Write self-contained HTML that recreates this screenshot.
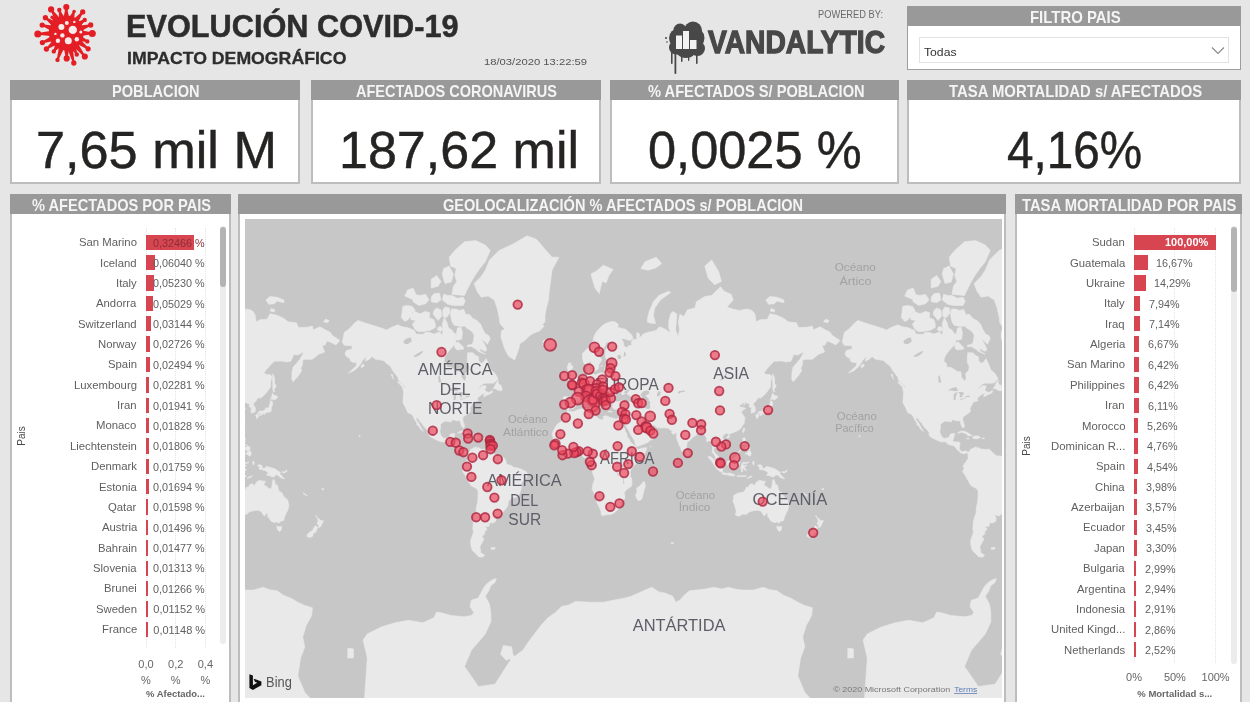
<!DOCTYPE html>
<html lang="es"><head><meta charset="utf-8"><title>Evolución COVID-19 - Impacto demográfico</title>
<style>
html,body{margin:0;padding:0}
body{width:1250px;height:703px;overflow:hidden;background:#e6e6e6;font-family:"Liberation Sans",sans-serif;position:relative}
.abs,.t,.panel,.map{position:absolute}
.t{white-space:nowrap;transform-origin:0 50%;display:block}
.panel{box-sizing:border-box;background:#fff}
.panel .hd{position:absolute;background:#999}
.grid{width:0;border-left:1px dotted #e4e4e4}
.rot{transform:rotate(-90deg);transform-origin:50% 50%}
</style></head><body>

<svg class="abs" style="left:30px;top:0" width="75" height="70" viewBox="30 0 75 70"><g fill="#e31e24" stroke="#e31e24"><circle cx="66.3" cy="32.9" r="17.4" stroke="none"/><path stroke="none" d="M68.9 17.0L67.1 7.0L65.5 7.0L63.7 17.0Z"/><circle cx="66.3" cy="7.0" r="3.08" stroke="none"/><path stroke="none" d="M74.2 18.8L74.8 11.7L73.3 11.2L69.3 17.1Z"/><circle cx="74.1" cy="11.5" r="1.76" stroke="none"/><path stroke="none" d="M78.1 22.0L83.3 12.4L82.0 11.4L74.0 18.8Z"/><circle cx="82.7" cy="11.9" r="2.64" stroke="none"/><path stroke="none" d="M80.8 25.9L85.2 20.6L84.3 19.3L77.8 21.7Z"/><circle cx="84.7" cy="20.0" r="2.20" stroke="none"/><path stroke="none" d="M82.2 30.5L91.0 25.7L90.5 24.2L80.6 25.5Z"/><circle cx="90.7" cy="25.0" r="2.64" stroke="none"/><path stroke="none" d="M82.2 35.8L92.3 34.2L92.3 32.6L82.2 30.6Z"/><circle cx="92.3" cy="33.4" r="3.52" stroke="none"/><path stroke="none" d="M80.1 41.3L87.0 42.1L87.6 40.6L82.0 36.4Z"/><circle cx="87.3" cy="41.4" r="2.20" stroke="none"/><path stroke="none" d="M77.6 44.3L87.7 49.4L88.6 48.1L80.7 40.1Z"/><circle cx="88.1" cy="48.8" r="2.64" stroke="none"/><path stroke="none" d="M74.0 47.0L84.1 57.0L85.4 56.0L78.1 43.8Z"/><circle cx="84.8" cy="56.5" r="3.08" stroke="none"/><path stroke="none" d="M70.9 48.3L76.1 54.8L77.5 54.1L75.6 46.1Z"/><circle cx="76.8" cy="54.5" r="2.20" stroke="none"/><path stroke="none" d="M67.6 49.0L73.0 63.2L74.6 62.8L72.7 47.7Z"/><circle cx="73.8" cy="63.0" r="2.64" stroke="none"/><path stroke="none" d="M64.0 48.8L65.9 58.4L67.5 58.4L69.2 48.8Z"/><circle cx="66.7" cy="58.4" r="3.08" stroke="none"/><path stroke="none" d="M58.9 47.2L56.8 59.7L58.3 60.2L63.9 48.8Z"/><circle cx="57.5" cy="59.9" r="2.20" stroke="none"/><path stroke="none" d="M55.3 44.6L53.2 50.9L54.5 51.8L59.6 47.5Z"/><circle cx="53.8" cy="51.4" r="2.20" stroke="none"/><path stroke="none" d="M52.3 40.9L45.9 48.4L46.9 49.6L55.6 44.9Z"/><circle cx="46.4" cy="49.0" r="2.64" stroke="none"/><path stroke="none" d="M50.6 36.4L42.1 41.8L42.7 43.3L52.5 41.3Z"/><circle cx="42.4" cy="42.6" r="2.64" stroke="none"/><path stroke="none" d="M50.3 30.9L37.8 33.1L37.8 34.7L50.5 36.1Z"/><circle cx="37.8" cy="33.9" r="3.52" stroke="none"/><path stroke="none" d="M52.0 25.5L42.5 24.3L42.0 25.8L50.4 30.5Z"/><circle cx="42.2" cy="25.1" r="2.64" stroke="none"/><path stroke="none" d="M55.0 21.5L45.9 17.1L45.0 18.4L51.9 25.7Z"/><circle cx="45.4" cy="17.7" r="2.64" stroke="none"/><path stroke="none" d="M57.6 19.3L52.8 16.8L51.7 17.8L53.7 22.8Z"/><circle cx="52.2" cy="17.3" r="1.76" stroke="none"/><path stroke="none" d="M59.8 18.1L51.7 9.0L50.4 9.9L55.5 21.0Z"/><circle cx="51.1" cy="9.4" r="3.08" stroke="none"/><path stroke="none" d="M64.1 16.9L60.0 9.7L58.5 10.2L59.2 18.5Z"/><circle cx="59.3" cy="9.9" r="2.20" stroke="none"/></g><g fill="#fdeaea"><circle cx="61.4" cy="26.9" r="3"/><circle cx="72.8" cy="29.9" r="4.2"/><circle cx="66.8" cy="22.9" r="2"/><circle cx="74.3" cy="21.9" r="1.2"/><circle cx="80.8" cy="31.9" r="1.5"/><circle cx="62.4" cy="35.4" r="2.2"/><circle cx="55.4" cy="33.9" r="1.2"/><circle cx="68.3" cy="40.8" r="3.5"/><circle cx="57.9" cy="40.8" r="2.2"/><circle cx="76.8" cy="39.3" r="2.2"/></g></svg>
<span class="t" style="left:126.20px;top:8.74px;font-size:31px;line-height:35.619px;color:#2d2d2d;font-weight:700;transform:scaleX(0.9904);-webkit-text-stroke:0.5px #2d2d2d;">EVOLUCIÓN COVID-19</span>
<span class="t" style="left:127.05px;top:49.47px;font-size:16.5px;line-height:18.959px;color:#2d2d2d;font-weight:700;transform:scaleX(1.0717);-webkit-text-stroke:0.3px #2d2d2d;">IMPACTO DEMOGRÁFICO</span>
<span class="t" style="left:484.00px;top:56.60px;font-size:9.5px;line-height:10.915px;color:#555;transform:scaleX(1.1817);">18/03/2020 13:22:59</span>
<span class="t" style="left:818.00px;top:8.00px;font-size:10.5px;line-height:12.065px;color:#6a6a6a;transform:scaleX(0.8842);">POWERED BY:</span>
<svg class="abs" style="left:660px;top:15px" width="235" height="65" viewBox="660 15 235 65"><g fill="#484848"><circle cx="678.5" cy="38" r="9.5"/><circle cx="694" cy="38" r="10.5"/><circle cx="686" cy="46" r="12"/><circle cx="680" cy="30" r="6.5"/><circle cx="693" cy="30.5" r="9"/><circle cx="676" cy="47.5" r="7"/><circle cx="697.5" cy="48.5" r="7.5"/><rect x="671" y="52" width="1.6" height="12" rx="0.8"/><rect x="674.5" y="52" width="1.8" height="22" rx="0.8"/><rect x="681" y="55" width="1.5" height="7" rx="0.8"/><rect x="696" y="52" width="1.6" height="12" rx="0.8"/><rect x="688" y="55" width="1.3" height="6" rx="0.8"/><circle cx="666" cy="38" r="1"/><circle cx="667" cy="42" r="0.8"/></g><g fill="#f2f2f2"><rect x="676" y="35.5" width="6" height="13.5"/><rect x="683" y="31" width="6" height="18"/><rect x="690" y="40" width="6.5" height="9"/></g><text x="708" y="53" font-family="Liberation Sans, sans-serif" font-weight="700" font-size="32" fill="#484848" stroke="#484848" stroke-width="1.3" textLength="177" lengthAdjust="spacingAndGlyphs">VANDALYTIC</text></svg>
<div class="panel" style="left:907.1px;top:6.3px;width:334px;height:63.4px;border:1px solid #9e9e9e"><div class="hd" style="height:19.8px;left:-1px;right:-1px;top:-1px"></div></div><span class="t" style="left:1029.83px;top:9.29px;font-size:15.7px;line-height:18.039px;color:#f4f4f4;font-weight:700;transform:scaleX(0.9517);">FILTRO PAIS</span>
<div class="abs" style="left:919px;top:36.5px;width:310px;height:26px;border:1px solid #e2e2e2;box-sizing:border-box;background:#fff"></div>
<span class="t" style="left:924.00px;top:46.39px;font-size:11.5px;line-height:13.213px;color:#333;transform:scaleX(1.0591);">Todas</span>
<svg class="abs" style="left:1210px;top:45px" width="16" height="11" viewBox="0 0 16 11"><path d="M2 2.5L8 8.5L14 2.5" fill="none" stroke="#888" stroke-width="1.1"/></svg>
<div class="panel" style="left:10px;top:80.3px;width:290px;height:103.4px;border:2px solid #bdbdbd"><div class="hd" style="height:19.9px;left:-2px;right:-2px;top:-2px"></div></div><span class="t" style="left:111.65px;top:83.39px;font-size:15.7px;line-height:18.039px;color:#f4f4f4;font-weight:700;transform:scaleX(0.9310);">POBLACION</span>
<div class="panel" style="left:310.8px;top:80.3px;width:290.1px;height:103.4px;border:2px solid #bdbdbd"><div class="hd" style="height:19.9px;left:-2px;right:-2px;top:-2px"></div></div><span class="t" style="left:356.44px;top:83.39px;font-size:15.7px;line-height:18.039px;color:#f4f4f4;font-weight:700;transform:scaleX(0.9247);">AFECTADOS CORONAVIRUS</span>
<div class="panel" style="left:610.1px;top:80.3px;width:288.6px;height:103.4px;border:2px solid #bdbdbd"><div class="hd" style="height:19.9px;left:-2px;right:-2px;top:-2px"></div></div><span class="t" style="left:647.91px;top:83.39px;font-size:15.7px;line-height:18.039px;color:#f4f4f4;font-weight:700;transform:scaleX(0.9344);">% AFECTADOS S/ POBLACION</span>
<div class="panel" style="left:907.1px;top:80.3px;width:334px;height:103.4px;border:2px solid #bdbdbd"><div class="hd" style="height:19.9px;left:-2px;right:-2px;top:-2px"></div></div><span class="t" style="left:948.85px;top:83.39px;font-size:15.7px;line-height:18.039px;color:#f4f4f4;font-weight:700;transform:scaleX(0.9477);">TASA MORTALIDAD s/ AFECTADOS</span>
<span class="t" style="left:35.79px;top:120.89px;font-size:51.5px;line-height:59.174px;color:#252423;transform:scaleX(1.0144);-webkit-text-stroke:0.45px #252423;">7,65 mil M</span>
<span class="t" style="left:338.50px;top:120.89px;font-size:51.5px;line-height:59.174px;color:#252423;transform:scaleX(1.0101);-webkit-text-stroke:0.45px #252423;">187,62 mil</span>
<span class="t" style="left:648.23px;top:120.89px;font-size:51.5px;line-height:59.174px;color:#252423;transform:scaleX(0.9814);-webkit-text-stroke:0.45px #252423;">0,0025 %</span>
<span class="t" style="left:1006.55px;top:120.89px;font-size:51.5px;line-height:59.174px;color:#252423;transform:scaleX(0.9255);-webkit-text-stroke:0.45px #252423;">4,16%</span>
<div class="panel" style="left:10px;top:194.1px;width:220.8px;height:520px;border:2px solid #bdbdbd"><div class="hd" style="height:19.5px;left:-2px;right:-2px;top:-2px"></div></div><span class="t" style="left:32.31px;top:196.79px;font-size:15.7px;line-height:18.039px;color:#f4f4f4;font-weight:700;transform:scaleX(0.9310);">% AFECTADOS POR PAIS</span>
<div class="panel" style="left:238.2px;top:194.1px;width:767.6px;height:520px;border:2px solid #bdbdbd"><div class="hd" style="height:19.5px;left:-2px;right:-2px;top:-2px"></div></div><span class="t" style="left:442.82px;top:196.79px;font-size:15.7px;line-height:18.039px;color:#f4f4f4;font-weight:700;transform:scaleX(0.9284);">GEOLOCALIZACIÓN % AFECTADOS s/ POBLACION</span>
<div class="panel" style="left:1015.2px;top:194.1px;width:226.5px;height:520px;border:2px solid #bdbdbd"><div class="hd" style="height:19.5px;left:-2px;right:-2px;top:-2px"></div></div><span class="t" style="left:1022.35px;top:196.79px;font-size:15.7px;line-height:18.039px;color:#f4f4f4;font-weight:700;transform:scaleX(0.9411);">TASA MORTALIDAD POR PAIS</span>
<svg class="map" style="left:244.8px;top:219.2px" width="757.4" height="479.1" viewBox="244.8 219.2 757.4 479.1">
<rect x="244.8" y="219.2" width="757.4" height="479.1" fill="#c7c7c7"/>
<path fill="#e9e9e9" stroke="#e9e9e9" stroke-width="0.6" stroke-linejoin="round" d="M-157.9 342.4L-155.9 332.8L-151.0 329.0L-145.4 322.9L-142.1 320.7L-135.7 322.9L-130.2 324.6L-120.4 327.8L-113.5 330.2L-109.3 327.8L-102.4 325.0L-98.2 327.0L-92.7 327.8L-85.7 330.6L-84.3 334.3L-77.4 334.7L-74.6 332.5L-70.4 332.8L-66.3 334.3L-60.7 332.1L-57.9 335.8L-57.2 330.2L-57.9 324.1L-55.9 317.7L-53.1 322.9L-51.7 328.2L-48.2 330.2L-46.8 332.8L-44.0 334.7L-42.7 328.2L-39.2 327.4L-37.8 332.8L-38.5 339.3L-42.0 340.4L-44.0 340.0L-45.4 344.4L-48.2 347.6L-51.0 350.8L-53.8 354.4L-55.9 358.1L-56.1 362.2L-53.8 363.3L-53.1 367.5L-49.6 367.5L-45.4 370.0L-42.7 371.7L-39.2 372.2L-38.8 377.2L-37.1 379.5L-35.7 381.2L-34.7 380.4L-34.0 378.1L-34.6 373.7L-31.5 370.5L-31.0 366.2L-32.9 362.8L-32.9 358.1L-32.5 352.9L-27.4 352.9L-23.9 356.1L-21.8 356.7L-21.5 360.9L-19.0 363.6L-16.3 362.2L-14.2 358.7L-11.4 364.9L-9.3 370.0L-5.2 373.7L-3.1 377.2L-2.1 379.5L-3.8 381.0L-6.5 383.2L-10.7 383.4L-16.3 383.4L-19.7 386.0L-22.9 390.2L-20.4 388.1L-17.7 386.0L-14.2 386.0L-14.2 388.1L-15.6 389.6L-14.2 391.8L-11.4 392.6L-9.3 391.8L-7.9 390.4L-7.9 392.6L-9.3 393.6L-12.8 395.1L-16.3 397.1L-16.4 395.3L-14.2 393.2L-17.7 394.2L-20.4 396.1L-22.5 398.0L-22.9 399.9L-21.8 400.7L-24.6 401.6L-27.4 402.5L-28.1 404.9L-29.5 407.2L-30.2 408.9L-29.6 411.5L-31.5 413.2L-34.3 415.2L-37.1 417.3L-37.5 419.8L-36.4 423.8L-35.7 426.1L-36.3 428.1L-37.8 427.5L-39.5 424.2L-39.6 422.2L-41.3 420.6L-43.4 421.1L-46.1 420.1L-48.9 420.3L-48.6 422.2L-51.0 421.7L-55.2 421.2L-57.9 423.0L-59.7 424.5L-59.7 427.7L-60.4 432.2L-59.3 435.2L-57.9 437.4L-55.9 438.6L-52.4 438.0L-50.6 436.7L-50.2 434.5L-46.8 433.6L-45.2 434.0L-46.1 436.7L-46.8 438.9L-47.7 441.8L-44.0 442.1L-41.3 442.1L-40.2 443.2L-40.6 446.8L-40.9 448.9L-39.2 451.5L-37.1 452.0L-35.0 451.0L-32.2 452.3L-32.1 453.2L-33.6 452.7L-35.7 454.1L-37.8 453.6L-39.9 452.7L-42.7 450.3L-43.8 448.9L-46.1 446.1L-47.5 445.8L-51.7 444.7L-55.2 441.8L-58.6 442.2L-62.1 440.9L-66.3 438.9L-69.7 437.1L-71.3 435.2L-70.9 433.0L-72.5 430.7L-75.3 428.0L-76.7 426.1L-78.2 423.8L-80.9 420.9L-81.8 418.7L-84.0 417.7L-83.9 420.1L-81.5 423.3L-79.5 426.9L-78.1 429.5L-76.7 431.3L-77.8 430.9L-80.2 428.7L-80.9 426.6L-83.4 424.9L-83.4 423.0L-85.4 420.1L-87.2 416.5L-89.2 414.0L-92.1 413.2L-93.8 409.8L-94.7 407.5L-96.5 404.5L-97.2 402.9L-97.1 399.9L-96.8 395.1L-96.8 391.6L-97.8 387.3L-95.4 387.7L-94.7 389.1L-95.2 386.0L-98.2 383.2L-101.7 380.6L-102.4 377.2L-105.2 373.7L-107.2 371.2L-110.0 366.2L-113.5 363.6L-116.3 360.9L-119.0 360.3L-124.6 359.5L-128.1 356.7L-130.9 359.5L-135.0 361.4L-133.6 356.1L-137.8 360.9L-139.2 363.6L-142.7 368.0L-146.8 371.2L-151.7 373.2L-148.2 370.0L-144.0 366.2L-143.4 362.8L-146.8 362.8L-149.6 361.4L-150.3 358.7L-153.8 356.7L-155.2 353.8L-153.8 350.8L-148.2 349.2L-148.2 346.0L-151.0 346.0L-155.9 345.4ZM-95.9 387.3L-98.2 386.6L-102.8 382.1L-101.0 382.1L-98.2 383.9L-96.1 386.0ZM-106.5 379.5L-107.9 377.2L-109.3 374.6L-107.5 374.8L-107.5 377.2ZM-139.2 367.5L-137.1 367.2L-135.7 365.4L-137.1 364.1L-138.9 365.7ZM-7.0 388.9L-4.5 388.9L-2.4 390.4L1.1 391.0L2.2 389.1L1.1 387.1L1.1 385.4L-1.0 384.9L-2.1 382.8L-1.7 380.6L-3.8 382.8L-5.2 386.0ZM-42.7 433.1L-39.9 431.5L-37.1 431.2L-32.9 432.5L-29.5 434.9L-27.7 435.6L-32.2 436.1L-32.9 434.9L-35.7 433.4L-38.5 432.4L-41.3 433.3ZM-27.9 438.1L-26.0 436.1L-21.8 436.2L-19.6 438.0L-21.8 438.4L-24.2 439.2ZM-33.4 438.4L-30.6 438.6L-30.9 439.0L-32.9 439.2ZM-17.9 438.1L-15.7 438.3L-15.9 438.9L-17.9 438.9ZM-14.9 354.4L-17.7 352.9L-20.4 350.8L-19.7 348.6L-17.0 350.8L-14.5 351.4L-13.5 349.2L-15.6 344.4L-18.8 339.3L-14.9 342.1L-12.8 344.4L-10.0 339.0L-11.4 335.8L-14.9 334.0L-17.7 329.0L-19.7 324.1L-23.2 320.7L-27.4 318.6L-30.9 314.5L-34.3 314.9L-36.4 309.6L-41.3 310.6L-44.0 309.2L-48.9 309.2L-49.6 315.4L-48.2 322.0L-46.1 325.4L-42.7 326.2L-38.5 326.6L-35.7 326.2L-33.6 328.2L-30.2 330.2L-27.4 332.8L-26.0 335.8L-26.7 341.1L-28.1 344.4L-32.9 345.4L-32.9 347.0L-28.8 346.7L-24.6 349.2L-21.8 351.7ZM-45.4 343.4L-42.0 342.1L-37.1 347.0L-36.4 349.2L-39.9 349.8L-43.4 350.1L-45.4 347.6ZM-64.9 327.8L-70.4 330.6L-77.4 331.7L-82.2 331.7L-85.7 329.0L-87.8 324.1L-84.3 320.7L-89.2 319.9L-89.9 315.4L-85.7 311.6L-80.2 314.0L-74.6 311.6L-70.4 313.0L-71.1 317.7L-66.3 319.9L-64.9 324.1ZM-98.9 317.7L-95.4 321.6L-92.0 319.9L-87.8 313.0L-85.0 310.6L-87.8 306.6L-93.4 305.6L-97.5 306.6L-98.2 313.0ZM-87.1 301.9L-81.5 305.6L-74.6 304.0L-71.1 300.2L-74.6 294.5L-80.2 295.7L-85.7 294.5L-87.8 298.5ZM-67.0 314.5L-62.1 320.7L-58.6 316.3L-59.3 310.1L-63.5 308.1L-66.3 310.6ZM-57.2 316.8L-53.8 317.7L-50.0 313.0L-51.0 308.1L-55.2 307.1L-57.5 310.6ZM-62.8 330.2L-59.3 331.7L-57.2 329.4L-59.3 326.6L-62.1 327.4ZM-52.4 304.5L-46.8 305.6L-37.1 305.6L-35.0 301.3L-37.1 297.4L-42.7 298.5L-48.2 295.7L-52.4 295.7L-56.5 294.5L-57.9 300.2ZM-69.0 301.9L-63.5 302.9L-59.3 300.2L-60.7 293.3L-66.3 293.9L-69.0 297.4ZM-95.4 296.2L-88.5 299.1L-84.3 294.5L-87.1 288.3L-92.7 290.2ZM-35.7 295.7L-41.3 295.1L-48.2 294.5L-46.8 286.4L-43.4 281.6L-45.4 275.8L-44.0 268.8L-49.6 266.3L-51.0 257.4L-45.4 250.6L-35.7 241.9L-24.6 240.8L-14.9 245.3L-10.0 250.6L-14.9 262.0L-20.4 268.8L-25.3 275.8L-29.5 283.0L-32.9 289.6ZM-55.2 283.7L-48.9 282.3L-46.8 274.3L-51.0 266.3L-56.5 268.8L-57.9 274.3ZM-69.0 288.3L-62.1 286.4L-59.3 281.6L-63.5 275.8L-69.0 279.5ZM14.4 360.1L8.7 356.7L6.0 352.3L3.9 347.6L2.5 342.8L0.8 337.6L1.1 331.3L4.6 329.0L1.8 326.2L-0.3 323.3L-1.0 317.7L-3.1 308.1L-5.9 300.2L-12.1 296.2L-19.0 297.4L-23.2 291.4L-26.0 283.7L-19.0 276.6L-14.9 270.4L-10.7 260.2L-1.0 250.6L12.9 244.2L26.8 236.0L36.5 239.6L44.8 249.5L51.8 257.4L58.7 257.4L51.8 270.4L50.4 281.6L49.0 291.4L48.3 300.2L46.2 308.1L44.8 315.4L44.8 322.0L42.1 325.0L44.1 326.2L39.3 331.3L33.7 333.2L29.6 335.8L24.0 341.1L19.8 343.8L18.5 349.2L16.4 355.2ZM-32.1 452.5L-30.2 451.3L-29.5 449.5L-28.1 448.9L-24.6 447.2L-23.9 446.9L-23.9 448.9L-21.8 447.5L-19.7 449.2L-16.3 449.5L-13.5 449.6L-10.7 449.4L-9.3 451.0L-7.9 452.5L-5.9 454.1L-3.8 456.0L0.4 456.2L3.2 457.6L4.6 458.7L6.0 461.8L6.0 464.3L8.0 465.0L10.1 465.3L13.6 467.5L17.8 468.3L21.2 469.4L24.0 471.0L26.4 472.0L27.1 474.7L26.5 477.6L24.0 480.4L21.9 482.5L21.2 485.4L21.0 489.0L19.8 492.7L18.5 495.6L17.1 497.1L13.6 497.6L10.8 499.0L8.0 501.7L7.8 505.6L5.3 509.6L2.9 511.7L1.1 514.6L-1.0 516.1L-3.8 515.4L-5.7 514.6L-4.0 518.5L-4.5 521.4L-6.5 522.9L-10.7 523.2L-11.1 526.5L-14.9 526.8L-13.1 529.6L-15.3 531.5L-15.6 534.4L-18.4 536.4L-16.3 539.5L-18.6 543.7L-20.4 546.9L-19.6 550.0L-19.7 552.6L-15.6 555.4L-17.7 557.4L-21.8 556.9L-24.6 553.8L-28.1 550.3L-29.5 544.7L-29.5 540.5L-28.1 536.4L-26.7 532.5L-27.4 528.7L-27.0 525.0L-26.7 520.6L-25.6 517.1L-24.0 512.9L-23.9 508.0L-22.5 501.7L-22.2 497.1L-22.1 492.7L-22.4 490.3L-24.6 488.3L-28.8 486.1L-30.6 483.9L-31.8 481.1L-33.6 478.3L-35.0 475.4L-37.1 472.6L-37.5 470.6L-36.1 468.9L-35.7 467.8L-37.1 467.4L-36.8 465.7L-35.7 463.6L-34.3 462.2L-33.6 460.8L-32.0 459.0L-32.2 456.6L-32.1 454.6L-32.8 454.1L-32.1 453.2ZM-9.3 548.0L-5.2 547.6L-5.2 549.1L-8.6 549.6ZM67.2 411.0L72.6 412.0L75.4 411.0L79.6 409.3L86.5 408.9L89.3 408.4L90.7 408.9L90.0 411.5L89.6 413.5L90.7 415.2L93.5 415.9L96.6 416.9L97.6 418.5L101.8 420.1L103.2 419.0L103.2 416.5L106.0 415.9L110.1 417.8L115.7 419.1L118.5 418.2L120.3 418.7L120.7 420.6L121.9 423.8L124.7 429.9L125.0 431.5L126.8 434.5L127.2 437.4L128.9 438.9L130.3 442.5L132.3 443.9L135.1 446.8L135.5 448.2L137.9 449.6L140.7 448.6L146.5 447.7L146.0 450.3L143.5 456.0L142.1 458.0L139.3 460.8L135.1 464.3L133.0 466.8L131.0 469.2L130.0 472.0L130.3 474.0L130.3 476.9L131.6 479.0L131.8 483.9L131.0 486.8L126.8 489.4L124.0 492.7L124.7 495.6L124.7 498.7L121.2 500.9L121.0 503.3L119.8 506.4L117.8 509.6L114.3 512.9L111.1 514.6L106.0 514.9L103.2 515.9L101.0 514.9L100.7 511.3L99.0 507.2L96.9 503.3L95.5 497.1L93.5 492.7L91.8 489.0L92.8 483.9L94.4 479.7L93.5 476.1L92.3 472.6L91.4 469.9L88.6 467.1L87.9 465.0L88.6 462.9L88.9 459.4L87.5 458.0L85.1 458.2L83.0 457.1L81.6 455.5L78.2 455.5L74.0 457.1L71.9 457.3L69.1 457.1L65.0 458.2L62.9 457.1L59.7 454.8L57.3 452.5L56.6 450.6L54.6 448.9L52.2 446.9L51.2 443.7L52.5 441.1L52.9 437.4L51.8 434.5L53.2 430.7L55.3 426.9L57.3 424.1L60.1 422.5L61.8 420.6L61.9 418.2L63.6 415.2L66.0 413.7ZM143.9 481.1L145.3 486.1L144.1 489.7L141.8 498.7L140.7 500.2L137.9 500.9L136.1 497.9L135.5 494.9L136.9 491.9L136.5 488.3L139.3 486.5L142.1 483.2ZM67.8 410.6L66.6 409.4L65.1 408.6L62.9 408.9L62.2 405.9L63.2 401.8L62.5 398.0L64.3 396.7L68.5 397.1L72.9 397.3L73.7 395.1L73.7 392.2L72.3 389.8L69.1 388.3L68.7 387.3L71.2 386.4L73.2 386.9L73.0 384.5L73.7 385.2L75.7 384.9L77.5 383.4L77.6 381.9L80.3 380.8L81.0 379.5L82.1 377.2L83.7 376.0L85.1 375.5L87.2 375.5L87.3 373.7L86.8 371.2L86.8 367.5L90.0 365.7L89.7 368.7L89.3 371.2L89.0 372.9L90.7 374.8L92.8 373.9L95.1 375.1L98.3 373.7L101.1 372.9L102.9 373.9L104.6 372.0L104.6 367.5L105.5 365.9L106.8 365.7L108.7 367.2L109.1 364.1L108.0 361.7L111.5 360.6L114.3 360.6L117.1 359.8L115.0 358.1L111.5 358.4L107.3 359.8L105.3 358.1L105.0 353.8L105.3 350.1L109.4 345.1L110.5 342.8L109.0 341.8L106.0 342.8L105.0 346.0L101.8 350.1L99.4 353.8L99.3 356.7L101.5 359.5L100.8 361.4L98.6 364.9L98.3 368.7L97.3 369.7L95.3 371.0L93.3 371.5L92.8 369.2L91.8 365.7L90.7 362.2L90.1 360.9L88.6 362.8L85.8 364.9L83.3 363.0L82.3 358.1L82.3 353.8L85.1 350.8L87.9 348.3L90.4 345.1L92.8 341.1L94.1 335.8L96.2 332.1L99.7 328.2L102.5 325.4L107.3 322.9L111.2 321.6L115.0 322.0L118.5 325.0L117.1 327.4L121.2 328.6L125.4 329.4L131.6 335.1L132.8 339.3L129.6 340.7L124.0 339.0L121.2 338.6L123.3 342.8L123.7 346.4L127.5 348.0L128.2 345.7L131.6 345.7L131.0 341.8L134.4 339.3L136.5 340.0L136.5 332.8L139.3 334.0L139.3 337.9L143.5 334.0L149.0 332.1L151.8 331.7L156.0 330.6L159.4 327.0L164.3 329.0L167.1 330.9L170.5 332.8L168.5 328.2L168.5 322.0L170.5 314.0L172.6 311.6L176.5 314.0L176.1 322.0L175.4 330.2L177.5 335.8L176.1 339.0L178.2 335.8L179.3 330.2L178.2 322.0L179.6 314.5L183.7 316.8L187.2 310.1L194.8 308.1L196.2 301.9L204.6 296.8L211.5 295.7L220.3 287.0L224.0 291.4L231.0 294.5L233.0 300.2L226.8 307.1L232.3 309.2L239.3 310.6L246.9 309.2L251.8 310.6L254.6 314.0L256.0 322.0L260.1 319.9L267.1 319.4L269.8 314.0L276.8 315.4L283.7 318.6L287.9 322.0L296.2 322.9L298.3 327.8L307.3 327.4L312.2 326.2L312.9 330.2L319.8 327.0L325.4 330.2L329.6 332.1L332.3 335.8L339.7 340.7L335.8 345.1L331.0 342.8L326.8 341.1L324.7 345.4L321.9 345.4L324.4 352.3L318.5 354.4L312.2 359.5L306.0 359.5L302.5 360.1L302.2 364.9L300.4 368.7L301.8 370.0L300.1 373.2L297.6 376.7L295.5 379.0L293.0 381.9L291.6 379.5L291.8 372.4L292.8 367.5L296.2 363.6L299.7 359.5L302.5 354.7L303.2 352.3L297.6 355.2L293.5 354.7L290.7 361.4L286.5 362.2L281.0 361.2L274.0 361.4L269.8 365.7L267.1 368.7L263.6 373.2L266.4 374.8L269.8 374.8L271.8 376.7L270.5 381.7L270.3 387.1L267.5 391.2L264.3 395.1L260.1 398.4L258.7 397.6L256.9 399.3L255.5 401.8L252.8 404.0L255.1 408.0L255.1 411.5L254.6 412.2L251.1 413.4L250.8 410.6L251.4 407.7L249.0 407.2L249.4 404.5L248.0 403.6L244.8 402.7L243.7 405.7L244.1 402.1L240.7 405.0L238.9 405.4L240.4 407.5L243.2 407.5L245.5 408.6L242.8 410.3L241.1 412.3L242.8 414.9L244.6 417.7L244.7 419.0L244.1 421.4L244.1 423.3L242.1 426.1L240.3 428.9L237.9 430.7L234.1 432.4L229.6 434.0L228.2 435.5L228.6 434.0L226.1 433.4L223.7 434.9L222.3 437.4L223.3 439.6L225.8 441.8L227.2 446.1L227.1 448.2L224.0 449.8L221.2 452.2L221.0 450.1L218.5 448.9L217.5 447.2L215.7 446.4L215.0 445.4L214.3 447.5L213.3 450.3L214.7 453.2L216.4 454.8L218.5 456.6L219.1 458.7L220.1 462.2L219.1 462.5L216.1 460.4L214.8 456.6L214.0 454.8L211.9 452.7L212.3 449.6L212.2 446.8L211.1 443.2L210.8 441.1L208.7 441.1L206.4 441.8L206.6 438.9L205.3 436.2L203.2 433.7L202.5 432.1L201.1 432.5L199.0 433.3L196.2 434.0L196.0 435.5L193.5 436.7L189.7 440.6L186.9 442.5L186.6 445.8L186.2 449.9L185.1 451.3L184.0 452.0L183.0 453.0L181.4 451.0L180.3 447.8L179.3 446.1L178.2 443.2L176.8 439.6L176.5 437.4L176.4 434.5L176.1 432.5L173.3 434.8L171.2 432.5L172.6 431.5L170.5 430.6L168.9 428.9L168.2 428.4L164.3 428.0L160.8 428.3L156.6 427.7L154.6 425.6L153.6 425.2L151.1 426.0L148.3 424.5L146.2 422.5L145.1 420.6L143.2 420.1L142.1 420.9L142.5 423.0L144.6 425.6L145.1 427.3L146.0 428.7L146.5 426.7L147.1 428.4L146.8 429.3L149.0 429.6L151.1 429.5L153.3 427.3L153.7 426.4L153.7 428.7L156.8 430.6L158.5 432.2L156.9 435.2L155.5 437.4L153.2 439.0L150.4 440.3L147.9 442.4L143.5 444.4L137.9 446.4L135.8 446.5L135.1 444.7L134.7 442.5L134.4 441.1L133.0 438.9L129.8 433.7L128.9 431.5L127.1 428.4L124.7 424.5L124.0 423.6L123.9 421.4L123.0 423.8L122.9 424.1L121.5 422.7L120.7 420.6L120.3 418.7L122.9 418.5L123.9 416.5L124.8 414.0L125.3 411.5L125.4 409.3L123.3 409.3L121.2 410.5L117.9 409.3L115.7 409.6L113.3 408.9L111.9 406.6L112.6 404.9L111.8 403.6L111.5 402.1L108.7 402.1L108.5 403.6L107.1 402.9L107.1 404.9L108.7 406.8L108.7 407.7L107.3 407.3L107.6 409.8L106.5 409.8L105.5 409.3L104.8 407.5L104.8 406.6L103.5 404.5L102.3 402.7L102.5 400.3L101.1 399.0L97.6 397.1L96.2 395.1L95.3 393.6L94.4 392.8L92.5 393.6L92.6 395.7L94.3 397.1L95.1 399.2L97.6 400.1L97.6 401.0L99.7 402.1L101.1 403.4L99.0 402.9L98.5 404.1L99.1 405.4L98.3 406.6L97.2 407.3L97.3 406.1L97.8 404.9L96.9 403.4L95.5 402.3L93.5 401.2L92.3 400.3L90.0 398.2L89.7 396.5L87.8 395.3L85.8 396.5L83.7 397.8L82.1 397.3L79.8 397.6L79.7 399.2L79.8 400.1L78.5 401.0L76.5 402.1L75.0 404.5L75.7 405.7L74.4 407.9L72.6 409.3L69.3 409.4ZM67.5 383.7L70.5 383.2L74.0 382.3L77.2 381.5L76.5 380.6L77.8 378.1L75.8 377.2L75.4 375.8L73.7 373.4L73.2 371.2L72.3 370.0L71.0 370.0L71.9 368.7L72.9 366.2L70.5 365.7L69.8 365.9L71.0 363.3L68.5 363.3L67.5 366.2L66.8 368.2L67.8 370.0L68.2 371.7L68.7 372.4L68.3 373.2L70.5 372.7L71.0 374.8L71.2 376.2L69.1 376.5L69.6 377.6L69.7 378.8L68.2 379.7L69.6 380.4L71.2 380.8L71.6 380.6L69.6 381.2ZM61.5 380.4L64.0 380.1L66.6 379.0L67.1 376.5L67.6 373.9L66.8 372.0L65.0 371.7L63.6 373.7L61.5 374.4L62.2 376.5L61.1 379.0ZM42.1 342.8L44.1 339.7L47.6 341.8L50.4 340.4L53.2 339.3L55.3 342.1L56.5 344.4L54.6 346.7L49.4 349.5L46.9 348.9L43.9 348.3L44.8 346.0L42.1 344.7L44.8 343.4ZM90.7 274.3L94.8 288.3L99.0 293.9L101.8 281.6L106.0 283.0L108.7 275.8L112.9 269.6L103.2 265.5L96.2 271.2ZM146.9 322.0L149.7 323.3L155.3 323.7L153.2 315.4L154.6 308.1L160.1 300.2L170.5 292.7L168.5 291.4L158.7 295.7L153.2 301.9L149.0 311.6L147.6 317.7ZM140.7 268.8L147.6 270.4L156.0 268.0L161.5 263.8L156.0 257.4L144.8 262.0ZM208.0 278.1L214.3 285.0L221.2 281.6L218.5 272.0L211.5 260.2L204.6 266.3ZM265.7 300.2L268.5 304.5L274.0 304.0L276.8 301.3L283.7 302.9L283.7 300.2L276.8 297.4L269.8 296.8ZM269.8 311.1L274.0 312.1L274.7 310.1L271.2 308.7ZM323.3 322.0L327.5 322.9L328.9 320.7L325.4 319.4ZM272.6 374.1L274.4 378.3L274.4 383.9L276.1 386.0L273.7 390.2L274.7 391.8L273.3 392.2L272.6 389.1L272.6 383.9L272.3 379.5ZM269.8 400.8L271.2 398.0L272.2 393.4L274.0 395.5L277.2 396.5L277.5 397.6L274.7 399.9L271.2 399.3L270.3 399.5ZM271.9 401.2L272.6 404.5L271.2 407.2L271.2 409.8L270.5 412.0L268.5 412.3L265.7 413.0L265.0 413.7L264.0 414.9L262.9 413.2L260.1 413.5L257.3 414.0L257.3 413.2L259.4 411.5L262.9 411.2L265.0 409.8L265.7 408.0L267.8 408.4L269.1 406.3L269.8 403.6L270.3 401.4ZM256.0 414.9L258.0 414.5L258.7 416.0L257.3 418.5L256.2 418.7L256.0 416.5L255.3 415.4ZM259.1 414.9L262.2 413.5L262.2 414.7L260.1 416.0ZM244.1 428.1L244.8 429.2L243.2 433.0L242.2 431.5L243.5 428.4ZM226.4 437.1L228.9 435.8L229.6 436.7L227.5 438.6ZM242.8 438.1L245.1 438.3L244.8 441.8L244.1 443.9L247.6 446.1L247.3 446.7L244.8 444.9L242.9 444.7L242.1 442.5L242.5 441.1ZM244.8 454.6L246.9 452.5L249.7 450.8L251.1 453.2L250.7 455.3L249.7 456.4L247.6 455.3L246.2 453.9ZM244.8 447.8L247.6 446.8L249.7 446.8L249.7 450.1L246.9 451.0L245.5 450.3ZM238.2 452.6L241.4 448.5L241.1 449.9L238.9 452.5ZM226.8 462.2L227.5 461.5L230.0 460.5L232.3 459.9L235.1 457.3L237.6 454.6L238.9 455.5L241.0 457.1L239.3 458.3L238.9 460.1L240.0 462.2L239.0 463.2L238.6 465.3L237.2 466.4L236.9 469.2L234.7 469.9L232.3 468.7L230.3 468.5L228.5 467.1L227.1 465.0ZM207.8 456.5L210.8 457.1L214.3 460.1L216.4 461.5L219.1 464.3L220.5 466.4L222.6 468.5L222.3 472.4L220.5 472.2L217.5 469.9L215.4 467.4L213.2 464.3L211.5 461.1L209.1 459.0ZM221.5 473.8L223.3 472.6L226.1 473.6L229.1 473.2L231.9 474.0L234.4 475.0L234.3 476.3L231.0 475.9L226.8 475.0L223.3 474.6ZM246.9 478.7L249.0 476.9L252.1 476.0L250.4 477.6ZM236.5 476.1L240.7 475.9L246.2 475.9L246.0 476.6L240.7 476.6L237.9 476.9ZM241.4 472.1L242.6 471.7L242.6 468.2L243.7 468.5L245.3 471.0L246.2 470.6L245.1 468.9L244.1 466.9L246.6 465.7L246.2 465.3L243.9 465.6L242.3 464.3L242.1 463.6L243.5 463.6L246.2 463.7L249.0 462.4L248.3 462.1L246.2 462.9L243.5 462.5L242.1 463.2L241.5 464.6L241.4 466.4L240.4 468.2L241.1 469.3ZM252.5 461.8L253.2 461.2L254.1 462.9L253.2 465.4L252.5 463.6ZM257.3 465.4L259.4 464.9L261.5 465.4L262.2 467.8L263.6 468.9L266.4 466.8L268.5 467.1L271.2 467.9L274.7 469.0L277.9 471.3L280.3 472.6L279.6 473.8L281.6 476.1L284.4 479.0L283.0 478.7L280.0 477.6L278.2 475.7L276.1 475.0L274.4 476.1L274.0 477.1L271.2 477.0L269.1 475.6L267.1 475.9L266.6 474.5L268.2 473.8L267.1 472.0L264.3 470.7L261.5 469.7L259.8 469.9L258.7 468.5L260.8 467.8L259.0 467.4ZM281.6 472.0L284.4 472.0L286.5 470.1L286.9 471.3L284.4 473.1L282.3 472.9ZM273.3 479.2L274.7 481.8L275.0 484.4L277.2 485.4L278.2 489.0L278.6 491.2L281.9 493.1L283.3 496.1L284.8 497.9L287.5 500.2L288.2 503.3L288.7 505.9L287.6 510.4L286.2 512.9L285.4 514.6L284.0 518.0L283.7 520.6L281.0 521.3L278.6 523.4L276.5 522.0L274.7 522.9L271.2 521.6L269.4 519.3L268.5 517.3L267.3 517.3L267.8 515.9L266.8 512.2L265.7 514.6L263.9 516.1L261.8 512.9L260.8 511.4L257.6 510.4L254.6 510.6L250.4 511.7L247.6 512.9L246.9 514.4L242.1 514.4L239.1 516.4L236.5 515.9L235.1 515.1L236.1 511.3L235.1 508.0L234.0 504.1L232.8 501.7L233.2 499.4L233.3 496.4L234.0 495.3L237.2 493.5L240.7 492.7L243.5 492.1L245.3 489.7L246.0 487.5L248.3 487.3L249.7 484.7L251.8 483.9L253.9 485.4L255.3 485.1L255.4 483.2L257.1 481.7L259.4 480.4L262.9 481.4L265.4 481.4L264.3 483.2L263.6 485.4L266.4 486.8L269.1 489.0L271.0 489.0L271.9 485.4L272.1 481.8ZM276.4 526.3L278.9 527.0L281.4 526.7L281.2 529.6L280.3 531.1L278.9 531.7L277.2 529.6ZM315.3 515.2L317.8 518.8L319.4 519.2L319.8 520.7L323.3 520.9L321.9 523.7L320.5 526.8L318.7 527.9L318.2 527.4L318.5 525.6L316.8 523.7L318.0 521.4L317.5 518.8L315.7 516.3ZM315.3 525.9L317.3 527.4L317.1 528.7L315.7 532.1L313.2 533.5L312.5 536.4L310.1 537.6L309.1 537.6L306.6 536.4L307.3 534.4L309.4 532.5L312.2 530.6L313.6 528.3L314.6 526.5ZM186.2 450.8L187.6 451.3L189.0 453.9L188.2 455.5L186.8 456.0L186.2 453.9ZM92.8 407.2L97.1 406.8L96.5 409.4L92.8 407.9ZM86.9 401.8L88.9 401.8L88.7 405.0L87.2 405.4ZM87.5 398.8L88.6 398.2L88.5 400.8L87.6 400.7ZM108.0 411.5L111.9 411.8L111.5 412.3L108.2 412.0ZM120.3 412.3L123.3 411.3L122.5 412.5L121.0 413.0ZM303.2 493.0L307.3 496.1L306.6 496.2L303.2 493.8ZM321.6 489.0L323.5 488.8L323.5 490.0L321.8 490.0ZM-141.3 435.6L-139.9 436.2L-140.7 437.4L-141.3 436.7ZM171.0 542.6L173.3 543.0L172.6 544.1L171.2 543.9ZM90.5 370.7L92.8 370.0L92.8 372.0L90.7 372.4ZM100.7 367.0L101.8 365.2L101.5 366.7ZM149.6 446.7L151.1 446.7L150.4 447.1ZM3.2 645.6L11.5 647.0L12.9 656.6L6.0 660.6L0.4 654.3ZM-28.8 600.4L-22.5 598.4L-21.1 608.7L-26.0 613.2L-30.2 606.6ZM-152.4 648.4L-146.8 649.1L-146.8 658.2L-152.4 658.2ZM-174.6 705.9L-160.7 710.4L-146.8 713.5L-135.7 699.0L-132.9 658.2L-137.1 640.3L-132.9 634.1L-119.0 627.3L-105.2 623.0L-91.3 620.5L-77.4 623.0L-66.3 618.0L-63.5 612.3L-57.9 613.2L-49.6 615.6L-35.7 617.0L-28.8 615.6L-24.6 610.9L-23.2 600.4L-19.0 592.8L-16.3 587.5L-12.8 583.5L-7.9 580.0L-3.8 578.8L-5.2 582.6L-9.3 585.8L-11.4 591.0L-14.9 596.5L-10.7 604.5L-9.3 613.2L-9.3 622.0L-14.9 634.1L-28.8 650.5L-35.7 666.6L-21.8 686.7L-5.2 684.4L3.2 671.2L10.1 660.6L8.7 650.5L14.3 656.6L22.6 650.5L28.2 642.2L36.5 631.2L40.7 625.7L47.6 618.0L54.6 613.2L61.5 606.6L68.5 605.3L75.4 601.6L89.3 602.4L103.2 602.4L117.1 599.6L124.0 598.4L131.0 596.5L137.9 593.5L144.8 590.3L151.8 587.5L158.7 592.1L165.7 593.5L172.6 596.5L175.4 602.4L179.6 600.4L183.7 595.8L189.3 591.0L196.2 590.3L204.6 589.3L214.3 587.5L221.2 589.3L228.2 587.5L235.1 589.3L242.1 590.3L253.2 590.3L262.9 587.5L269.8 590.0L276.8 591.0L283.7 595.8L290.7 598.4L297.6 602.4L304.6 605.7L312.2 607.9L311.5 615.6L306.0 625.7L302.5 637.2L304.6 647.0L300.4 658.2L297.6 676.0L304.6 692.6L314.3 703.0L325.4 705.9L325.4 714.3L-174.6 714.3ZM342.1 342.4L344.1 332.8L349.0 329.0L354.6 322.9L357.9 320.7L364.3 322.9L369.8 324.6L379.6 327.8L386.5 330.2L390.7 327.8L397.6 325.0L401.8 327.0L407.3 327.8L414.3 330.6L415.7 334.3L422.6 334.7L425.4 332.5L429.6 332.8L433.7 334.3L439.3 332.1L442.1 335.8L442.8 330.2L442.1 324.1L444.1 317.7L446.9 322.9L448.3 328.2L451.8 330.2L453.2 332.8L456.0 334.7L457.3 328.2L460.8 327.4L462.2 332.8L461.5 339.3L458.0 340.4L456.0 340.0L454.6 344.4L451.8 347.6L449.0 350.8L446.2 354.4L444.1 358.1L443.9 362.2L446.2 363.3L446.9 367.5L450.4 367.5L454.6 370.0L457.3 371.7L460.8 372.2L461.2 377.2L462.9 379.5L464.3 381.2L465.3 380.4L466.0 378.1L465.4 373.7L468.5 370.5L469.0 366.2L467.1 362.8L467.1 358.1L467.5 352.9L472.6 352.9L476.1 356.1L478.2 356.7L478.5 360.9L481.0 363.6L483.7 362.2L485.8 358.7L488.6 364.9L490.7 370.0L494.8 373.7L496.9 377.2L497.9 379.5L496.2 381.0L493.5 383.2L489.3 383.4L483.7 383.4L480.3 386.0L477.1 390.2L479.6 388.1L482.3 386.0L485.8 386.0L485.8 388.1L484.4 389.6L485.8 391.8L488.6 392.6L490.7 391.8L492.1 390.4L492.1 392.6L490.7 393.6L487.2 395.1L483.7 397.1L483.6 395.3L485.8 393.2L482.3 394.2L479.6 396.1L477.5 398.0L477.1 399.9L478.2 400.7L475.4 401.6L472.6 402.5L471.9 404.9L470.5 407.2L469.8 408.9L470.4 411.5L468.5 413.2L465.7 415.2L462.9 417.3L462.5 419.8L463.6 423.8L464.3 426.1L463.7 428.1L462.2 427.5L460.5 424.2L460.4 422.2L458.7 420.6L456.6 421.1L453.9 420.1L451.1 420.3L451.4 422.2L449.0 421.7L444.8 421.2L442.1 423.0L440.3 424.5L440.3 427.7L439.6 432.2L440.7 435.2L442.1 437.4L444.1 438.6L447.6 438.0L449.4 436.7L449.8 434.5L453.2 433.6L454.8 434.0L453.9 436.7L453.2 438.9L452.3 441.8L456.0 442.1L458.7 442.1L459.8 443.2L459.4 446.8L459.1 448.9L460.8 451.5L462.9 452.0L465.0 451.0L467.8 452.3L467.9 453.2L466.4 452.7L464.3 454.1L462.2 453.6L460.1 452.7L457.3 450.3L456.2 448.9L453.9 446.1L452.5 445.8L448.3 444.7L444.8 441.8L441.4 442.2L437.9 440.9L433.7 438.9L430.3 437.1L428.7 435.2L429.1 433.0L427.5 430.7L424.7 428.0L423.3 426.1L421.8 423.8L419.1 420.9L418.2 418.7L416.0 417.7L416.1 420.1L418.5 423.3L420.5 426.9L421.9 429.5L423.3 431.3L422.2 430.9L419.8 428.7L419.1 426.6L416.6 424.9L416.6 423.0L414.6 420.1L412.8 416.5L410.8 414.0L407.9 413.2L406.2 409.8L405.3 407.5L403.5 404.5L402.8 402.9L402.9 399.9L403.2 395.1L403.2 391.6L402.2 387.3L404.6 387.7L405.3 389.1L404.8 386.0L401.8 383.2L398.3 380.6L397.6 377.2L394.8 373.7L392.8 371.2L390.0 366.2L386.5 363.6L383.7 360.9L381.0 360.3L375.4 359.5L371.9 356.7L369.1 359.5L365.0 361.4L366.4 356.1L362.2 360.9L360.8 363.6L357.3 368.0L353.2 371.2L348.3 373.2L351.8 370.0L356.0 366.2L356.6 362.8L353.2 362.8L350.4 361.4L349.7 358.7L346.2 356.7L344.8 353.8L346.2 350.8L351.8 349.2L351.8 346.0L349.0 346.0L344.1 345.4ZM404.1 387.3L401.8 386.6L397.2 382.1L399.0 382.1L401.8 383.9L403.9 386.0ZM393.5 379.5L392.1 377.2L390.7 374.6L392.5 374.8L392.5 377.2ZM360.8 367.5L362.9 367.2L364.3 365.4L362.9 364.1L361.1 365.7ZM493.0 388.9L495.5 388.9L497.6 390.4L501.1 391.0L502.2 389.1L501.1 387.1L501.1 385.4L499.0 384.9L497.9 382.8L498.3 380.6L496.2 382.8L494.8 386.0ZM457.3 433.1L460.1 431.5L462.9 431.2L467.1 432.5L470.5 434.9L472.3 435.6L467.8 436.1L467.1 434.9L464.3 433.4L461.5 432.4L458.7 433.3ZM472.1 438.1L474.0 436.1L478.2 436.2L480.4 438.0L478.2 438.4L475.8 439.2ZM466.6 438.4L469.4 438.6L469.1 439.0L467.1 439.2ZM482.1 438.1L484.3 438.3L484.1 438.9L482.1 438.9ZM485.1 354.4L482.3 352.9L479.6 350.8L480.3 348.6L483.0 350.8L485.5 351.4L486.5 349.2L484.4 344.4L481.2 339.3L485.1 342.1L487.2 344.4L490.0 339.0L488.6 335.8L485.1 334.0L482.3 329.0L480.3 324.1L476.8 320.7L472.6 318.6L469.1 314.5L465.7 314.9L463.6 309.6L458.7 310.6L456.0 309.2L451.1 309.2L450.4 315.4L451.8 322.0L453.9 325.4L457.3 326.2L461.5 326.6L464.3 326.2L466.4 328.2L469.8 330.2L472.6 332.8L474.0 335.8L473.3 341.1L471.9 344.4L467.1 345.4L467.1 347.0L471.2 346.7L475.4 349.2L478.2 351.7ZM454.6 343.4L458.0 342.1L462.9 347.0L463.6 349.2L460.1 349.8L456.6 350.1L454.6 347.6ZM435.1 327.8L429.6 330.6L422.6 331.7L417.8 331.7L414.3 329.0L412.2 324.1L415.7 320.7L410.8 319.9L410.1 315.4L414.3 311.6L419.8 314.0L425.4 311.6L429.6 313.0L428.9 317.7L433.7 319.9L435.1 324.1ZM401.1 317.7L404.6 321.6L408.0 319.9L412.2 313.0L415.0 310.6L412.2 306.6L406.6 305.6L402.5 306.6L401.8 313.0ZM412.9 301.9L418.5 305.6L425.4 304.0L428.9 300.2L425.4 294.5L419.8 295.7L414.3 294.5L412.2 298.5ZM433.0 314.5L437.9 320.7L441.4 316.3L440.7 310.1L436.5 308.1L433.7 310.6ZM442.8 316.8L446.2 317.7L450.0 313.0L449.0 308.1L444.8 307.1L442.5 310.6ZM437.2 330.2L440.7 331.7L442.8 329.4L440.7 326.6L437.9 327.4ZM447.6 304.5L453.2 305.6L462.9 305.6L465.0 301.3L462.9 297.4L457.3 298.5L451.8 295.7L447.6 295.7L443.5 294.5L442.1 300.2ZM431.0 301.9L436.5 302.9L440.7 300.2L439.3 293.3L433.7 293.9L431.0 297.4ZM404.6 296.2L411.5 299.1L415.7 294.5L412.9 288.3L407.3 290.2ZM464.3 295.7L458.7 295.1L451.8 294.5L453.2 286.4L456.6 281.6L454.6 275.8L456.0 268.8L450.4 266.3L449.0 257.4L454.6 250.6L464.3 241.9L475.4 240.8L485.1 245.3L490.0 250.6L485.1 262.0L479.6 268.8L474.7 275.8L470.5 283.0L467.1 289.6ZM444.8 283.7L451.1 282.3L453.2 274.3L449.0 266.3L443.5 268.8L442.1 274.3ZM431.0 288.3L437.9 286.4L440.7 281.6L436.5 275.8L431.0 279.5ZM514.4 360.1L508.7 356.7L506.0 352.3L503.9 347.6L502.5 342.8L500.8 337.6L501.1 331.3L504.6 329.0L501.8 326.2L499.7 323.3L499.0 317.7L496.9 308.1L494.1 300.2L487.9 296.2L481.0 297.4L476.8 291.4L474.0 283.7L481.0 276.6L485.1 270.4L489.3 260.2L499.0 250.6L512.9 244.2L526.8 236.0L536.5 239.6L544.8 249.5L551.8 257.4L558.7 257.4L551.8 270.4L550.4 281.6L549.0 291.4L548.3 300.2L546.2 308.1L544.8 315.4L544.8 322.0L542.1 325.0L544.1 326.2L539.3 331.3L533.7 333.2L529.6 335.8L524.0 341.1L519.8 343.8L518.5 349.2L516.4 355.2ZM467.9 452.5L469.8 451.3L470.5 449.5L471.9 448.9L475.4 447.2L476.1 446.9L476.1 448.9L478.2 447.5L480.3 449.2L483.7 449.5L486.5 449.6L489.3 449.4L490.7 451.0L492.1 452.5L494.1 454.1L496.2 456.0L500.4 456.2L503.2 457.6L504.6 458.7L506.0 461.8L506.0 464.3L508.0 465.0L510.1 465.3L513.6 467.5L517.8 468.3L521.2 469.4L524.0 471.0L526.4 472.0L527.1 474.7L526.5 477.6L524.0 480.4L521.9 482.5L521.2 485.4L521.0 489.0L519.8 492.7L518.5 495.6L517.1 497.1L513.6 497.6L510.8 499.0L508.0 501.7L507.8 505.6L505.3 509.6L502.9 511.7L501.1 514.6L499.0 516.1L496.2 515.4L494.3 514.6L496.0 518.5L495.5 521.4L493.5 522.9L489.3 523.2L488.9 526.5L485.1 526.8L486.9 529.6L484.7 531.5L484.4 534.4L481.6 536.4L483.7 539.5L481.4 543.7L479.6 546.9L480.4 550.0L480.3 552.6L484.4 555.4L482.3 557.4L478.2 556.9L475.4 553.8L471.9 550.3L470.5 544.7L470.5 540.5L471.9 536.4L473.3 532.5L472.6 528.7L473.0 525.0L473.3 520.6L474.4 517.1L476.0 512.9L476.1 508.0L477.5 501.7L477.8 497.1L477.9 492.7L477.6 490.3L475.4 488.3L471.2 486.1L469.4 483.9L468.2 481.1L466.4 478.3L465.0 475.4L462.9 472.6L462.5 470.6L463.9 468.9L464.3 467.8L462.9 467.4L463.2 465.7L464.3 463.6L465.7 462.2L466.4 460.8L468.0 459.0L467.8 456.6L467.9 454.6L467.2 454.1L467.9 453.2ZM490.7 548.0L494.8 547.6L494.8 549.1L491.4 549.6ZM567.2 411.0L572.6 412.0L575.4 411.0L579.6 409.3L586.5 408.9L589.3 408.4L590.7 408.9L590.0 411.5L589.6 413.5L590.7 415.2L593.5 415.9L596.6 416.9L597.6 418.5L601.8 420.1L603.2 419.0L603.2 416.5L606.0 415.9L610.1 417.8L615.7 419.1L618.5 418.2L620.3 418.7L620.7 420.6L621.9 423.8L624.7 429.9L625.0 431.5L626.8 434.5L627.2 437.4L628.9 438.9L630.3 442.5L632.3 443.9L635.1 446.8L635.5 448.2L637.9 449.6L640.7 448.6L646.5 447.7L646.0 450.3L643.5 456.0L642.1 458.0L639.3 460.8L635.1 464.3L633.0 466.8L631.0 469.2L630.0 472.0L630.3 474.0L630.3 476.9L631.6 479.0L631.8 483.9L631.0 486.8L626.8 489.4L624.0 492.7L624.7 495.6L624.7 498.7L621.2 500.9L621.0 503.3L619.8 506.4L617.8 509.6L614.3 512.9L611.1 514.6L606.0 514.9L603.2 515.9L601.0 514.9L600.7 511.3L599.0 507.2L596.9 503.3L595.5 497.1L593.5 492.7L591.8 489.0L592.8 483.9L594.4 479.7L593.5 476.1L592.3 472.6L591.4 469.9L588.6 467.1L587.9 465.0L588.6 462.9L588.9 459.4L587.5 458.0L585.1 458.2L583.0 457.1L581.6 455.5L578.2 455.5L574.0 457.1L571.9 457.3L569.1 457.1L565.0 458.2L562.9 457.1L559.7 454.8L557.3 452.5L556.6 450.6L554.6 448.9L552.2 446.9L551.2 443.7L552.5 441.1L552.9 437.4L551.8 434.5L553.2 430.7L555.3 426.9L557.3 424.1L560.1 422.5L561.8 420.6L561.9 418.2L563.6 415.2L566.0 413.7ZM643.9 481.1L645.3 486.1L644.1 489.7L641.8 498.7L640.7 500.2L637.9 500.9L636.1 497.9L635.5 494.9L636.9 491.9L636.5 488.3L639.3 486.5L642.1 483.2ZM567.8 410.6L566.6 409.4L565.1 408.6L562.9 408.9L562.2 405.9L563.2 401.8L562.5 398.0L564.3 396.7L568.5 397.1L572.9 397.3L573.7 395.1L573.7 392.2L572.3 389.8L569.1 388.3L568.7 387.3L571.2 386.4L573.2 386.9L573.0 384.5L573.7 385.2L575.7 384.9L577.5 383.4L577.6 381.9L580.3 380.8L581.0 379.5L582.1 377.2L583.7 376.0L585.1 375.5L587.2 375.5L587.3 373.7L586.8 371.2L586.8 367.5L590.0 365.7L589.7 368.7L589.3 371.2L589.0 372.9L590.7 374.8L592.8 373.9L595.1 375.1L598.3 373.7L601.1 372.9L602.9 373.9L604.6 372.0L604.6 367.5L605.5 365.9L606.8 365.7L608.7 367.2L609.1 364.1L608.0 361.7L611.5 360.6L614.3 360.6L617.1 359.8L615.0 358.1L611.5 358.4L607.3 359.8L605.3 358.1L605.0 353.8L605.3 350.1L609.4 345.1L610.5 342.8L609.0 341.8L606.0 342.8L605.0 346.0L601.8 350.1L599.4 353.8L599.3 356.7L601.5 359.5L600.8 361.4L598.6 364.9L598.3 368.7L597.3 369.7L595.3 371.0L593.3 371.5L592.8 369.2L591.8 365.7L590.7 362.2L590.1 360.9L588.6 362.8L585.8 364.9L583.3 363.0L582.3 358.1L582.3 353.8L585.1 350.8L587.9 348.3L590.4 345.1L592.8 341.1L594.1 335.8L596.2 332.1L599.7 328.2L602.5 325.4L607.3 322.9L611.2 321.6L615.0 322.0L618.5 325.0L617.1 327.4L621.2 328.6L625.4 329.4L631.6 335.1L632.8 339.3L629.6 340.7L624.0 339.0L621.2 338.6L623.3 342.8L623.7 346.4L627.5 348.0L628.2 345.7L631.6 345.7L631.0 341.8L634.4 339.3L636.5 340.0L636.5 332.8L639.3 334.0L639.3 337.9L643.5 334.0L649.0 332.1L651.8 331.7L656.0 330.6L659.4 327.0L664.3 329.0L667.1 330.9L670.5 332.8L668.5 328.2L668.5 322.0L670.5 314.0L672.6 311.6L676.5 314.0L676.1 322.0L675.4 330.2L677.5 335.8L676.1 339.0L678.2 335.8L679.3 330.2L678.2 322.0L679.6 314.5L683.7 316.8L687.2 310.1L694.8 308.1L696.2 301.9L704.6 296.8L711.5 295.7L720.3 287.0L724.0 291.4L731.0 294.5L733.0 300.2L726.8 307.1L732.3 309.2L739.3 310.6L746.9 309.2L751.8 310.6L754.6 314.0L756.0 322.0L760.1 319.9L767.1 319.4L769.8 314.0L776.8 315.4L783.7 318.6L787.9 322.0L796.2 322.9L798.3 327.8L807.3 327.4L812.2 326.2L812.9 330.2L819.8 327.0L825.4 330.2L829.6 332.1L832.3 335.8L839.7 340.7L835.8 345.1L831.0 342.8L826.8 341.1L824.7 345.4L821.9 345.4L824.4 352.3L818.5 354.4L812.2 359.5L806.0 359.5L802.5 360.1L802.2 364.9L800.4 368.7L801.8 370.0L800.1 373.2L797.6 376.7L795.5 379.0L793.0 381.9L791.6 379.5L791.8 372.4L792.8 367.5L796.2 363.6L799.7 359.5L802.5 354.7L803.2 352.3L797.6 355.2L793.5 354.7L790.7 361.4L786.5 362.2L781.0 361.2L774.0 361.4L769.8 365.7L767.1 368.7L763.6 373.2L766.4 374.8L769.8 374.8L771.8 376.7L770.5 381.7L770.3 387.1L767.5 391.2L764.3 395.1L760.1 398.4L758.7 397.6L756.9 399.3L755.5 401.8L752.8 404.0L755.1 408.0L755.1 411.5L754.6 412.2L751.1 413.4L750.8 410.6L751.4 407.7L749.0 407.2L749.4 404.5L748.0 403.6L744.8 402.7L743.7 405.7L744.1 402.1L740.7 405.0L738.9 405.4L740.4 407.5L743.2 407.5L745.5 408.6L742.8 410.3L741.1 412.3L742.8 414.9L744.6 417.7L744.7 419.0L744.1 421.4L744.1 423.3L742.1 426.1L740.3 428.9L737.9 430.7L734.1 432.4L729.6 434.0L728.2 435.5L728.6 434.0L726.1 433.4L723.7 434.9L722.3 437.4L723.3 439.6L725.8 441.8L727.2 446.1L727.1 448.2L724.0 449.8L721.2 452.2L721.0 450.1L718.5 448.9L717.5 447.2L715.7 446.4L715.0 445.4L714.3 447.5L713.3 450.3L714.7 453.2L716.4 454.8L718.5 456.6L719.1 458.7L720.1 462.2L719.1 462.5L716.1 460.4L714.8 456.6L714.0 454.8L711.9 452.7L712.3 449.6L712.2 446.8L711.1 443.2L710.8 441.1L708.7 441.1L706.4 441.8L706.6 438.9L705.3 436.2L703.2 433.7L702.5 432.1L701.1 432.5L699.0 433.3L696.2 434.0L696.0 435.5L693.5 436.7L689.7 440.6L686.9 442.5L686.6 445.8L686.2 449.9L685.1 451.3L684.0 452.0L683.0 453.0L681.4 451.0L680.3 447.8L679.3 446.1L678.2 443.2L676.8 439.6L676.5 437.4L676.4 434.5L676.1 432.5L673.3 434.8L671.2 432.5L672.6 431.5L670.5 430.6L668.9 428.9L668.2 428.4L664.3 428.0L660.8 428.3L656.6 427.7L654.6 425.6L653.6 425.2L651.1 426.0L648.3 424.5L646.2 422.5L645.1 420.6L643.2 420.1L642.1 420.9L642.5 423.0L644.6 425.6L645.1 427.3L646.0 428.7L646.5 426.7L647.1 428.4L646.8 429.3L649.0 429.6L651.1 429.5L653.3 427.3L653.7 426.4L653.7 428.7L656.8 430.6L658.5 432.2L656.9 435.2L655.5 437.4L653.2 439.0L650.4 440.3L647.9 442.4L643.5 444.4L637.9 446.4L635.8 446.5L635.1 444.7L634.7 442.5L634.4 441.1L633.0 438.9L629.8 433.7L628.9 431.5L627.1 428.4L624.7 424.5L624.0 423.6L623.9 421.4L623.0 423.8L622.9 424.1L621.5 422.7L620.7 420.6L620.3 418.7L622.9 418.5L623.9 416.5L624.8 414.0L625.3 411.5L625.4 409.3L623.3 409.3L621.2 410.5L617.9 409.3L615.7 409.6L613.3 408.9L611.9 406.6L612.6 404.9L611.8 403.6L611.5 402.1L608.7 402.1L608.5 403.6L607.1 402.9L607.1 404.9L608.7 406.8L608.7 407.7L607.3 407.3L607.6 409.8L606.5 409.8L605.5 409.3L604.8 407.5L604.8 406.6L603.5 404.5L602.3 402.7L602.5 400.3L601.1 399.0L597.6 397.1L596.2 395.1L595.3 393.6L594.4 392.8L592.5 393.6L592.6 395.7L594.3 397.1L595.1 399.2L597.6 400.1L597.6 401.0L599.7 402.1L601.1 403.4L599.0 402.9L598.5 404.1L599.1 405.4L598.3 406.6L597.2 407.3L597.3 406.1L597.8 404.9L596.9 403.4L595.5 402.3L593.5 401.2L592.3 400.3L590.0 398.2L589.7 396.5L587.8 395.3L585.8 396.5L583.7 397.8L582.1 397.3L579.8 397.6L579.7 399.2L579.8 400.1L578.5 401.0L576.5 402.1L575.0 404.5L575.7 405.7L574.4 407.9L572.6 409.3L569.3 409.4ZM567.5 383.7L570.5 383.2L574.0 382.3L577.2 381.5L576.5 380.6L577.8 378.1L575.8 377.2L575.4 375.8L573.7 373.4L573.2 371.2L572.3 370.0L571.0 370.0L571.9 368.7L572.9 366.2L570.5 365.7L569.8 365.9L571.0 363.3L568.5 363.3L567.5 366.2L566.8 368.2L567.8 370.0L568.2 371.7L568.7 372.4L568.3 373.2L570.5 372.7L571.0 374.8L571.2 376.2L569.1 376.5L569.6 377.6L569.7 378.8L568.2 379.7L569.6 380.4L571.2 380.8L571.6 380.6L569.6 381.2ZM561.5 380.4L564.0 380.1L566.6 379.0L567.1 376.5L567.6 373.9L566.8 372.0L565.0 371.7L563.6 373.7L561.5 374.4L562.2 376.5L561.1 379.0ZM542.1 342.8L544.1 339.7L547.6 341.8L550.4 340.4L553.2 339.3L555.3 342.1L556.5 344.4L554.6 346.7L549.4 349.5L546.9 348.9L543.9 348.3L544.8 346.0L542.1 344.7L544.8 343.4ZM590.7 274.3L594.8 288.3L599.0 293.9L601.8 281.6L606.0 283.0L608.7 275.8L612.9 269.6L603.2 265.5L596.2 271.2ZM646.9 322.0L649.7 323.3L655.3 323.7L653.2 315.4L654.6 308.1L660.1 300.2L670.5 292.7L668.5 291.4L658.7 295.7L653.2 301.9L649.0 311.6L647.6 317.7ZM640.7 268.8L647.6 270.4L656.0 268.0L661.5 263.8L656.0 257.4L644.8 262.0ZM708.0 278.1L714.3 285.0L721.2 281.6L718.5 272.0L711.5 260.2L704.6 266.3ZM765.7 300.2L768.5 304.5L774.0 304.0L776.8 301.3L783.7 302.9L783.7 300.2L776.8 297.4L769.8 296.8ZM769.8 311.1L774.0 312.1L774.7 310.1L771.2 308.7ZM823.3 322.0L827.5 322.9L828.9 320.7L825.4 319.4ZM772.6 374.1L774.4 378.3L774.4 383.9L776.1 386.0L773.7 390.2L774.7 391.8L773.3 392.2L772.6 389.1L772.6 383.9L772.3 379.5ZM769.8 400.8L771.2 398.0L772.2 393.4L774.0 395.5L777.2 396.5L777.5 397.6L774.7 399.9L771.2 399.3L770.3 399.5ZM771.9 401.2L772.6 404.5L771.2 407.2L771.2 409.8L770.5 412.0L768.5 412.3L765.7 413.0L765.0 413.7L764.0 414.9L762.9 413.2L760.1 413.5L757.3 414.0L757.3 413.2L759.4 411.5L762.9 411.2L765.0 409.8L765.7 408.0L767.8 408.4L769.1 406.3L769.8 403.6L770.3 401.4ZM756.0 414.9L758.0 414.5L758.7 416.0L757.3 418.5L756.2 418.7L756.0 416.5L755.3 415.4ZM759.1 414.9L762.2 413.5L762.2 414.7L760.1 416.0ZM744.1 428.1L744.8 429.2L743.2 433.0L742.2 431.5L743.5 428.4ZM726.4 437.1L728.9 435.8L729.6 436.7L727.5 438.6ZM742.8 438.1L745.1 438.3L744.8 441.8L744.1 443.9L747.6 446.1L747.3 446.7L744.8 444.9L742.9 444.7L742.1 442.5L742.5 441.1ZM744.8 454.6L746.9 452.5L749.7 450.8L751.1 453.2L750.7 455.3L749.7 456.4L747.6 455.3L746.2 453.9ZM744.8 447.8L747.6 446.8L749.7 446.8L749.7 450.1L746.9 451.0L745.5 450.3ZM738.2 452.6L741.4 448.5L741.1 449.9L738.9 452.5ZM726.8 462.2L727.5 461.5L730.0 460.5L732.3 459.9L735.1 457.3L737.6 454.6L738.9 455.5L741.0 457.1L739.3 458.3L738.9 460.1L740.0 462.2L739.0 463.2L738.6 465.3L737.2 466.4L736.9 469.2L734.7 469.9L732.3 468.7L730.3 468.5L728.5 467.1L727.1 465.0ZM707.8 456.5L710.8 457.1L714.3 460.1L716.4 461.5L719.1 464.3L720.5 466.4L722.6 468.5L722.3 472.4L720.5 472.2L717.5 469.9L715.4 467.4L713.2 464.3L711.5 461.1L709.1 459.0ZM721.5 473.8L723.3 472.6L726.1 473.6L729.1 473.2L731.9 474.0L734.4 475.0L734.3 476.3L731.0 475.9L726.8 475.0L723.3 474.6ZM746.9 478.7L749.0 476.9L752.1 476.0L750.4 477.6ZM736.5 476.1L740.7 475.9L746.2 475.9L746.0 476.6L740.7 476.6L737.9 476.9ZM741.4 472.1L742.6 471.7L742.6 468.2L743.7 468.5L745.3 471.0L746.2 470.6L745.1 468.9L744.1 466.9L746.6 465.7L746.2 465.3L743.9 465.6L742.3 464.3L742.1 463.6L743.5 463.6L746.2 463.7L749.0 462.4L748.3 462.1L746.2 462.9L743.5 462.5L742.1 463.2L741.5 464.6L741.4 466.4L740.4 468.2L741.1 469.3ZM752.5 461.8L753.2 461.2L754.1 462.9L753.2 465.4L752.5 463.6ZM757.3 465.4L759.4 464.9L761.5 465.4L762.2 467.8L763.6 468.9L766.4 466.8L768.5 467.1L771.2 467.9L774.7 469.0L777.9 471.3L780.3 472.6L779.6 473.8L781.6 476.1L784.4 479.0L783.0 478.7L780.0 477.6L778.2 475.7L776.1 475.0L774.4 476.1L774.0 477.1L771.2 477.0L769.1 475.6L767.1 475.9L766.6 474.5L768.2 473.8L767.1 472.0L764.3 470.7L761.5 469.7L759.8 469.9L758.7 468.5L760.8 467.8L759.0 467.4ZM781.6 472.0L784.4 472.0L786.5 470.1L786.9 471.3L784.4 473.1L782.3 472.9ZM773.3 479.2L774.7 481.8L775.0 484.4L777.2 485.4L778.2 489.0L778.6 491.2L781.9 493.1L783.3 496.1L784.8 497.9L787.5 500.2L788.2 503.3L788.7 505.9L787.6 510.4L786.2 512.9L785.4 514.6L784.0 518.0L783.7 520.6L781.0 521.3L778.6 523.4L776.5 522.0L774.7 522.9L771.2 521.6L769.4 519.3L768.5 517.3L767.3 517.3L767.8 515.9L766.8 512.2L765.7 514.6L763.9 516.1L761.8 512.9L760.8 511.4L757.6 510.4L754.6 510.6L750.4 511.7L747.6 512.9L746.9 514.4L742.1 514.4L739.1 516.4L736.5 515.9L735.1 515.1L736.1 511.3L735.1 508.0L734.0 504.1L732.8 501.7L733.2 499.4L733.3 496.4L734.0 495.3L737.2 493.5L740.7 492.7L743.5 492.1L745.3 489.7L746.0 487.5L748.3 487.3L749.7 484.7L751.8 483.9L753.9 485.4L755.3 485.1L755.4 483.2L757.1 481.7L759.4 480.4L762.9 481.4L765.4 481.4L764.3 483.2L763.6 485.4L766.4 486.8L769.1 489.0L771.0 489.0L771.9 485.4L772.1 481.8ZM776.4 526.3L778.9 527.0L781.4 526.7L781.2 529.6L780.3 531.1L778.9 531.7L777.2 529.6ZM815.3 515.2L817.8 518.8L819.4 519.2L819.8 520.7L823.3 520.9L821.9 523.7L820.5 526.8L818.7 527.9L818.2 527.4L818.5 525.6L816.8 523.7L818.0 521.4L817.5 518.8L815.7 516.3ZM815.3 525.9L817.3 527.4L817.1 528.7L815.7 532.1L813.2 533.5L812.5 536.4L810.1 537.6L809.1 537.6L806.6 536.4L807.3 534.4L809.4 532.5L812.2 530.6L813.6 528.3L814.6 526.5ZM686.2 450.8L687.6 451.3L689.0 453.9L688.2 455.5L686.8 456.0L686.2 453.9ZM592.8 407.2L597.1 406.8L596.5 409.4L592.8 407.9ZM586.9 401.8L588.9 401.8L588.7 405.0L587.2 405.4ZM587.5 398.8L588.6 398.2L588.5 400.8L587.6 400.7ZM608.0 411.5L611.9 411.8L611.5 412.3L608.2 412.0ZM620.3 412.3L623.3 411.3L622.5 412.5L621.0 413.0ZM803.2 493.0L807.3 496.1L806.6 496.2L803.2 493.8ZM821.6 489.0L823.5 488.8L823.5 490.0L821.8 490.0ZM358.7 435.6L360.1 436.2L359.3 437.4L358.7 436.7ZM671.0 542.6L673.3 543.0L672.6 544.1L671.2 543.9ZM590.5 370.7L592.8 370.0L592.8 372.0L590.7 372.4ZM600.7 367.0L601.8 365.2L601.5 366.7ZM649.6 446.7L651.1 446.7L650.4 447.1ZM503.2 645.6L511.5 647.0L512.9 656.6L506.0 660.6L500.4 654.3ZM471.2 600.4L477.5 598.4L478.9 608.7L474.0 613.2L469.8 606.6ZM347.6 648.4L353.2 649.1L353.2 658.2L347.6 658.2ZM325.4 705.9L339.3 710.4L353.2 713.5L364.3 699.0L367.1 658.2L362.9 640.3L367.1 634.1L381.0 627.3L394.8 623.0L408.7 620.5L422.6 623.0L433.7 618.0L436.5 612.3L442.1 613.2L450.4 615.6L464.3 617.0L471.2 615.6L475.4 610.9L476.8 600.4L481.0 592.8L483.7 587.5L487.2 583.5L492.1 580.0L496.2 578.8L494.8 582.6L490.7 585.8L488.6 591.0L485.1 596.5L489.3 604.5L490.7 613.2L490.7 622.0L485.1 634.1L471.2 650.5L464.3 666.6L478.2 686.7L494.8 684.4L503.2 671.2L510.1 660.6L508.7 650.5L514.3 656.6L522.6 650.5L528.2 642.2L536.5 631.2L540.7 625.7L547.6 618.0L554.6 613.2L561.5 606.6L568.5 605.3L575.4 601.6L589.3 602.4L603.2 602.4L617.1 599.6L624.0 598.4L631.0 596.5L637.9 593.5L644.8 590.3L651.8 587.5L658.7 592.1L665.7 593.5L672.6 596.5L675.4 602.4L679.6 600.4L683.7 595.8L689.3 591.0L696.2 590.3L704.6 589.3L714.3 587.5L721.2 589.3L728.2 587.5L735.1 589.3L742.1 590.3L753.2 590.3L762.9 587.5L769.8 590.0L776.8 591.0L783.7 595.8L790.7 598.4L797.6 602.4L804.6 605.7L812.2 607.9L811.5 615.6L806.0 625.7L802.5 637.2L804.6 647.0L800.4 658.2L797.6 676.0L804.6 692.6L814.3 703.0L825.4 705.9L825.4 714.3L325.4 714.3ZM842.1 342.4L844.1 332.8L849.0 329.0L854.6 322.9L857.9 320.7L864.3 322.9L869.8 324.6L879.6 327.8L886.5 330.2L890.7 327.8L897.6 325.0L901.8 327.0L907.3 327.8L914.3 330.6L915.7 334.3L922.6 334.7L925.4 332.5L929.6 332.8L933.7 334.3L939.3 332.1L942.1 335.8L942.8 330.2L942.1 324.1L944.1 317.7L946.9 322.9L948.3 328.2L951.8 330.2L953.2 332.8L956.0 334.7L957.3 328.2L960.8 327.4L962.2 332.8L961.5 339.3L958.0 340.4L956.0 340.0L954.6 344.4L951.8 347.6L949.0 350.8L946.2 354.4L944.1 358.1L943.9 362.2L946.2 363.3L946.9 367.5L950.4 367.5L954.6 370.0L957.3 371.7L960.8 372.2L961.2 377.2L962.9 379.5L964.3 381.2L965.3 380.4L966.0 378.1L965.4 373.7L968.5 370.5L969.0 366.2L967.1 362.8L967.1 358.1L967.5 352.9L972.6 352.9L976.1 356.1L978.2 356.7L978.5 360.9L981.0 363.6L983.7 362.2L985.8 358.7L988.6 364.9L990.7 370.0L994.8 373.7L996.9 377.2L997.9 379.5L996.2 381.0L993.5 383.2L989.3 383.4L983.7 383.4L980.3 386.0L977.1 390.2L979.6 388.1L982.3 386.0L985.8 386.0L985.8 388.1L984.4 389.6L985.8 391.8L988.6 392.6L990.7 391.8L992.1 390.4L992.1 392.6L990.7 393.6L987.2 395.1L983.7 397.1L983.6 395.3L985.8 393.2L982.3 394.2L979.6 396.1L977.5 398.0L977.1 399.9L978.2 400.7L975.4 401.6L972.6 402.5L971.9 404.9L970.5 407.2L969.8 408.9L970.4 411.5L968.5 413.2L965.7 415.2L962.9 417.3L962.5 419.8L963.6 423.8L964.3 426.1L963.7 428.1L962.2 427.5L960.5 424.2L960.4 422.2L958.7 420.6L956.6 421.1L953.9 420.1L951.1 420.3L951.4 422.2L949.0 421.7L944.8 421.2L942.1 423.0L940.3 424.5L940.3 427.7L939.6 432.2L940.7 435.2L942.1 437.4L944.1 438.6L947.6 438.0L949.4 436.7L949.8 434.5L953.2 433.6L954.8 434.0L953.9 436.7L953.2 438.9L952.3 441.8L956.0 442.1L958.7 442.1L959.8 443.2L959.4 446.8L959.1 448.9L960.8 451.5L962.9 452.0L965.0 451.0L967.8 452.3L967.9 453.2L966.4 452.7L964.3 454.1L962.2 453.6L960.1 452.7L957.3 450.3L956.2 448.9L953.9 446.1L952.5 445.8L948.3 444.7L944.8 441.8L941.4 442.2L937.9 440.9L933.7 438.9L930.3 437.1L928.7 435.2L929.1 433.0L927.5 430.7L924.7 428.0L923.3 426.1L921.8 423.8L919.1 420.9L918.2 418.7L916.0 417.7L916.1 420.1L918.5 423.3L920.5 426.9L921.9 429.5L923.3 431.3L922.2 430.9L919.8 428.7L919.1 426.6L916.6 424.9L916.6 423.0L914.6 420.1L912.8 416.5L910.8 414.0L907.9 413.2L906.2 409.8L905.3 407.5L903.5 404.5L902.8 402.9L902.9 399.9L903.2 395.1L903.2 391.6L902.2 387.3L904.6 387.7L905.3 389.1L904.8 386.0L901.8 383.2L898.3 380.6L897.6 377.2L894.8 373.7L892.8 371.2L890.0 366.2L886.5 363.6L883.7 360.9L881.0 360.3L875.4 359.5L871.9 356.7L869.1 359.5L865.0 361.4L866.4 356.1L862.2 360.9L860.8 363.6L857.3 368.0L853.2 371.2L848.3 373.2L851.8 370.0L856.0 366.2L856.6 362.8L853.2 362.8L850.4 361.4L849.7 358.7L846.2 356.7L844.8 353.8L846.2 350.8L851.8 349.2L851.8 346.0L849.0 346.0L844.1 345.4ZM904.1 387.3L901.8 386.6L897.2 382.1L899.0 382.1L901.8 383.9L903.9 386.0ZM893.5 379.5L892.1 377.2L890.7 374.6L892.5 374.8L892.5 377.2ZM860.8 367.5L862.9 367.2L864.3 365.4L862.9 364.1L861.1 365.7ZM993.0 388.9L995.5 388.9L997.6 390.4L1001.1 391.0L1002.2 389.1L1001.1 387.1L1001.1 385.4L999.0 384.9L997.9 382.8L998.3 380.6L996.2 382.8L994.8 386.0ZM957.3 433.1L960.1 431.5L962.9 431.2L967.1 432.5L970.5 434.9L972.3 435.6L967.8 436.1L967.1 434.9L964.3 433.4L961.5 432.4L958.7 433.3ZM972.1 438.1L974.0 436.1L978.2 436.2L980.4 438.0L978.2 438.4L975.8 439.2ZM966.6 438.4L969.4 438.6L969.1 439.0L967.1 439.2ZM982.1 438.1L984.3 438.3L984.1 438.9L982.1 438.9ZM985.1 354.4L982.3 352.9L979.6 350.8L980.3 348.6L983.0 350.8L985.5 351.4L986.5 349.2L984.4 344.4L981.2 339.3L985.1 342.1L987.2 344.4L990.0 339.0L988.6 335.8L985.1 334.0L982.3 329.0L980.3 324.1L976.8 320.7L972.6 318.6L969.1 314.5L965.7 314.9L963.6 309.6L958.7 310.6L956.0 309.2L951.1 309.2L950.4 315.4L951.8 322.0L953.9 325.4L957.3 326.2L961.5 326.6L964.3 326.2L966.4 328.2L969.8 330.2L972.6 332.8L974.0 335.8L973.3 341.1L971.9 344.4L967.1 345.4L967.1 347.0L971.2 346.7L975.4 349.2L978.2 351.7ZM954.6 343.4L958.0 342.1L962.9 347.0L963.6 349.2L960.1 349.8L956.6 350.1L954.6 347.6ZM935.1 327.8L929.6 330.6L922.6 331.7L917.8 331.7L914.3 329.0L912.2 324.1L915.7 320.7L910.8 319.9L910.1 315.4L914.3 311.6L919.8 314.0L925.4 311.6L929.6 313.0L928.9 317.7L933.7 319.9L935.1 324.1ZM901.1 317.7L904.6 321.6L908.0 319.9L912.2 313.0L915.0 310.6L912.2 306.6L906.6 305.6L902.5 306.6L901.8 313.0ZM912.9 301.9L918.5 305.6L925.4 304.0L928.9 300.2L925.4 294.5L919.8 295.7L914.3 294.5L912.2 298.5ZM933.0 314.5L937.9 320.7L941.4 316.3L940.7 310.1L936.5 308.1L933.7 310.6ZM942.8 316.8L946.2 317.7L950.0 313.0L949.0 308.1L944.8 307.1L942.5 310.6ZM937.2 330.2L940.7 331.7L942.8 329.4L940.7 326.6L937.9 327.4ZM947.6 304.5L953.2 305.6L962.9 305.6L965.0 301.3L962.9 297.4L957.3 298.5L951.8 295.7L947.6 295.7L943.5 294.5L942.1 300.2ZM931.0 301.9L936.5 302.9L940.7 300.2L939.3 293.3L933.7 293.9L931.0 297.4ZM904.6 296.2L911.5 299.1L915.7 294.5L912.9 288.3L907.3 290.2ZM964.3 295.7L958.7 295.1L951.8 294.5L953.2 286.4L956.6 281.6L954.6 275.8L956.0 268.8L950.4 266.3L949.0 257.4L954.6 250.6L964.3 241.9L975.4 240.8L985.1 245.3L990.0 250.6L985.1 262.0L979.6 268.8L974.7 275.8L970.5 283.0L967.1 289.6ZM944.8 283.7L951.1 282.3L953.2 274.3L949.0 266.3L943.5 268.8L942.1 274.3ZM931.0 288.3L937.9 286.4L940.7 281.6L936.5 275.8L931.0 279.5ZM1014.4 360.1L1008.7 356.7L1006.0 352.3L1003.9 347.6L1002.5 342.8L1000.8 337.6L1001.1 331.3L1004.6 329.0L1001.8 326.2L999.7 323.3L999.0 317.7L996.9 308.1L994.1 300.2L987.9 296.2L981.0 297.4L976.8 291.4L974.0 283.7L981.0 276.6L985.1 270.4L989.3 260.2L999.0 250.6L1012.9 244.2L1026.8 236.0L1036.5 239.6L1044.8 249.5L1051.8 257.4L1058.7 257.4L1051.8 270.4L1050.4 281.6L1049.0 291.4L1048.3 300.2L1046.2 308.1L1044.8 315.4L1044.8 322.0L1042.1 325.0L1044.2 326.2L1039.3 331.3L1033.7 333.2L1029.6 335.8L1024.0 341.1L1019.8 343.8L1018.5 349.2L1016.4 355.2ZM967.9 452.5L969.8 451.3L970.5 449.5L971.9 448.9L975.4 447.2L976.1 446.9L976.1 448.9L978.2 447.5L980.3 449.2L983.7 449.5L986.5 449.6L989.3 449.4L990.7 451.0L992.1 452.5L994.1 454.1L996.2 456.0L1000.4 456.2L1003.2 457.6L1004.6 458.7L1006.0 461.8L1006.0 464.3L1008.0 465.0L1010.1 465.3L1013.6 467.5L1017.8 468.3L1021.2 469.4L1024.0 471.0L1026.4 472.0L1027.1 474.7L1026.5 477.6L1024.0 480.4L1021.9 482.5L1021.2 485.4L1021.0 489.0L1019.8 492.7L1018.5 495.6L1017.1 497.1L1013.6 497.6L1010.8 499.0L1008.0 501.7L1007.8 505.6L1005.3 509.6L1002.9 511.7L1001.1 514.6L999.0 516.1L996.2 515.4L994.3 514.6L996.0 518.5L995.5 521.4L993.5 522.9L989.3 523.2L988.9 526.5L985.1 526.8L986.9 529.6L984.7 531.5L984.4 534.4L981.6 536.4L983.7 539.5L981.4 543.7L979.6 546.9L980.4 550.0L980.3 552.6L984.4 555.4L982.3 557.4L978.2 556.9L975.4 553.8L971.9 550.3L970.5 544.7L970.5 540.5L971.9 536.4L973.3 532.5L972.6 528.7L973.0 525.0L973.3 520.6L974.4 517.1L976.0 512.9L976.1 508.0L977.5 501.7L977.8 497.1L977.9 492.7L977.6 490.3L975.4 488.3L971.2 486.1L969.4 483.9L968.2 481.1L966.4 478.3L965.0 475.4L962.9 472.6L962.5 470.6L963.9 468.9L964.3 467.8L962.9 467.4L963.2 465.7L964.3 463.6L965.7 462.2L966.4 460.8L968.0 459.0L967.8 456.6L967.9 454.6L967.2 454.1L967.9 453.2ZM990.7 548.0L994.8 547.6L994.8 549.1L991.4 549.6ZM1067.2 411.0L1072.6 412.0L1075.4 411.0L1079.6 409.3L1086.5 408.9L1089.3 408.4L1090.7 408.9L1090.0 411.5L1089.6 413.5L1090.7 415.2L1093.5 415.9L1096.7 416.9L1097.6 418.5L1101.8 420.1L1103.2 419.0L1103.2 416.5L1106.0 415.9L1110.1 417.8L1115.7 419.1L1118.5 418.2L1120.3 418.7L1120.7 420.6L1121.9 423.8L1124.7 429.9L1125.0 431.5L1126.8 434.5L1127.2 437.4L1128.9 438.9L1130.3 442.5L1132.3 443.9L1135.1 446.8L1135.5 448.2L1137.9 449.6L1140.7 448.6L1146.5 447.7L1146.0 450.3L1143.5 456.0L1142.1 458.0L1139.3 460.8L1135.1 464.3L1133.0 466.8L1131.0 469.2L1130.0 472.0L1130.3 474.0L1130.3 476.9L1131.7 479.0L1131.8 483.9L1131.0 486.8L1126.8 489.4L1124.0 492.7L1124.7 495.6L1124.7 498.7L1121.2 500.9L1121.0 503.3L1119.8 506.4L1117.8 509.6L1114.3 512.9L1111.1 514.6L1106.0 514.9L1103.2 515.9L1101.0 514.9L1100.7 511.3L1099.0 507.2L1096.9 503.3L1095.5 497.1L1093.5 492.7L1091.8 489.0L1092.8 483.9L1094.4 479.7L1093.5 476.1L1092.3 472.6L1091.4 469.9L1088.6 467.1L1087.9 465.0L1088.6 462.9L1088.9 459.4L1087.5 458.0L1085.1 458.2L1083.0 457.1L1081.7 455.5L1078.2 455.5L1074.0 457.1L1071.9 457.3L1069.2 457.1L1065.0 458.2L1062.9 457.1L1059.7 454.8L1057.3 452.5L1056.7 450.6L1054.6 448.9L1052.2 446.9L1051.2 443.7L1052.5 441.1L1052.9 437.4L1051.8 434.5L1053.2 430.7L1055.3 426.9L1057.3 424.1L1060.1 422.5L1061.8 420.6L1061.9 418.2L1063.6 415.2L1066.0 413.7ZM1143.9 481.1L1145.3 486.1L1144.2 489.7L1141.8 498.7L1140.7 500.2L1137.9 500.9L1136.1 497.9L1135.5 494.9L1136.9 491.9L1136.5 488.3L1139.3 486.5L1142.1 483.2ZM1067.8 410.6L1066.7 409.4L1065.1 408.6L1062.9 408.9L1062.2 405.9L1063.2 401.8L1062.5 398.0L1064.3 396.7L1068.5 397.1L1072.9 397.3L1073.7 395.1L1073.7 392.2L1072.3 389.8L1069.2 388.3L1068.7 387.3L1071.2 386.4L1073.2 386.9L1073.0 384.5L1073.7 385.2L1075.7 384.9L1077.5 383.4L1077.6 381.9L1080.3 380.8L1081.0 379.5L1082.1 377.2L1083.7 376.0L1085.1 375.5L1087.2 375.5L1087.3 373.7L1086.8 371.2L1086.8 367.5L1090.0 365.7L1089.7 368.7L1089.3 371.2L1089.0 372.9L1090.7 374.8L1092.8 373.9L1095.1 375.1L1098.3 373.7L1101.1 372.9L1102.9 373.9L1104.6 372.0L1104.6 367.5L1105.5 365.9L1106.8 365.7L1108.7 367.2L1109.2 364.1L1108.0 361.7L1111.5 360.6L1114.3 360.6L1117.1 359.8L1115.0 358.1L1111.5 358.4L1107.3 359.8L1105.3 358.1L1105.0 353.8L1105.3 350.1L1109.4 345.1L1110.5 342.8L1109.0 341.8L1106.0 342.8L1105.0 346.0L1101.8 350.1L1099.4 353.8L1099.3 356.7L1101.5 359.5L1100.8 361.4L1098.6 364.9L1098.3 368.7L1097.3 369.7L1095.3 371.0L1093.3 371.5L1092.8 369.2L1091.8 365.7L1090.7 362.2L1090.1 360.9L1088.6 362.8L1085.8 364.9L1083.3 363.0L1082.3 358.1L1082.3 353.8L1085.1 350.8L1087.9 348.3L1090.4 345.1L1092.8 341.1L1094.2 335.8L1096.2 332.1L1099.7 328.2L1102.5 325.4L1107.3 322.9L1111.2 321.6L1115.0 322.0L1118.5 325.0L1117.1 327.4L1121.2 328.6L1125.4 329.4L1131.7 335.1L1132.8 339.3L1129.6 340.7L1124.0 339.0L1121.2 338.6L1123.3 342.8L1123.7 346.4L1127.5 348.0L1128.2 345.7L1131.7 345.7L1131.0 341.8L1134.4 339.3L1136.5 340.0L1136.5 332.8L1139.3 334.0L1139.3 337.9L1143.5 334.0L1149.0 332.1L1151.8 331.7L1156.0 330.6L1159.4 327.0L1164.3 329.0L1167.1 330.9L1170.5 332.8L1168.5 328.2L1168.5 322.0L1170.5 314.0L1172.6 311.6L1176.5 314.0L1176.1 322.0L1175.4 330.2L1177.5 335.8L1176.1 339.0L1178.2 335.8L1179.3 330.2L1178.2 322.0L1179.6 314.5L1183.7 316.8L1187.2 310.1L1194.8 308.1L1196.2 301.9L1204.6 296.8L1211.5 295.7L1220.3 287.0L1224.0 291.4L1231.0 294.5L1233.0 300.2L1226.8 307.1L1232.3 309.2L1239.3 310.6L1246.9 309.2L1251.8 310.6L1254.6 314.0L1256.0 322.0L1260.1 319.9L1267.1 319.4L1269.8 314.0L1276.8 315.4L1283.7 318.6L1287.9 322.0L1296.2 322.9L1298.3 327.8L1307.3 327.4L1312.2 326.2L1312.9 330.2L1319.8 327.0L1325.4 330.2L1329.6 332.1L1332.3 335.8L1339.7 340.7L1335.8 345.1L1331.0 342.8L1326.8 341.1L1324.7 345.4L1321.9 345.4L1324.4 352.3L1318.5 354.4L1312.2 359.5L1306.0 359.5L1302.5 360.1L1302.2 364.9L1300.4 368.7L1301.8 370.0L1300.1 373.2L1297.6 376.7L1295.5 379.0L1293.0 381.9L1291.7 379.5L1291.8 372.4L1292.8 367.5L1296.2 363.6L1299.7 359.5L1302.5 354.7L1303.2 352.3L1297.6 355.2L1293.5 354.7L1290.7 361.4L1286.5 362.2L1281.0 361.2L1274.0 361.4L1269.8 365.7L1267.1 368.7L1263.6 373.2L1266.4 374.8L1269.8 374.8L1271.8 376.7L1270.5 381.7L1270.3 387.1L1267.5 391.2L1264.3 395.1L1260.1 398.4L1258.7 397.6L1256.9 399.3L1255.5 401.8L1252.8 404.0L1255.1 408.0L1255.1 411.5L1254.6 412.2L1251.1 413.4L1250.8 410.6L1251.4 407.7L1249.0 407.2L1249.4 404.5L1248.0 403.6L1244.8 402.7L1243.7 405.7L1244.2 402.1L1240.7 405.0L1238.9 405.4L1240.4 407.5L1243.2 407.5L1245.5 408.6L1242.8 410.3L1241.1 412.3L1242.8 414.9L1244.6 417.7L1244.7 419.0L1244.2 421.4L1244.2 423.3L1242.1 426.1L1240.3 428.9L1237.9 430.7L1234.2 432.4L1229.6 434.0L1228.2 435.5L1228.6 434.0L1226.1 433.4L1223.7 434.9L1222.3 437.4L1223.3 439.6L1225.8 441.8L1227.2 446.1L1227.1 448.2L1224.0 449.8L1221.2 452.2L1221.0 450.1L1218.5 448.9L1217.5 447.2L1215.7 446.4L1215.0 445.4L1214.3 447.5L1213.3 450.3L1214.7 453.2L1216.4 454.8L1218.5 456.6L1219.2 458.7L1220.1 462.2L1219.2 462.5L1216.1 460.4L1214.8 456.6L1214.0 454.8L1211.9 452.7L1212.3 449.6L1212.2 446.8L1211.1 443.2L1210.8 441.1L1208.7 441.1L1206.4 441.8L1206.7 438.9L1205.3 436.2L1203.2 433.7L1202.5 432.1L1201.1 432.5L1199.0 433.3L1196.2 434.0L1196.0 435.5L1193.5 436.7L1189.7 440.6L1186.9 442.5L1186.7 445.8L1186.2 449.9L1185.1 451.3L1184.0 452.0L1183.0 453.0L1181.4 451.0L1180.3 447.8L1179.3 446.1L1178.2 443.2L1176.8 439.6L1176.5 437.4L1176.4 434.5L1176.1 432.5L1173.3 434.8L1171.2 432.5L1172.6 431.5L1170.5 430.6L1168.9 428.9L1168.2 428.4L1164.3 428.0L1160.8 428.3L1156.7 427.7L1154.6 425.6L1153.6 425.2L1151.1 426.0L1148.3 424.5L1146.2 422.5L1145.1 420.6L1143.2 420.1L1142.1 420.9L1142.5 423.0L1144.6 425.6L1145.1 427.3L1146.0 428.7L1146.5 426.7L1147.1 428.4L1146.8 429.3L1149.0 429.6L1151.1 429.5L1153.3 427.3L1153.7 426.4L1153.7 428.7L1156.8 430.6L1158.5 432.2L1156.9 435.2L1155.5 437.4L1153.2 439.0L1150.4 440.3L1147.9 442.4L1143.5 444.4L1137.9 446.4L1135.8 446.5L1135.1 444.7L1134.7 442.5L1134.4 441.1L1133.0 438.9L1129.8 433.7L1128.9 431.5L1127.1 428.4L1124.7 424.5L1124.0 423.6L1123.9 421.4L1123.0 423.8L1122.9 424.1L1121.5 422.7L1120.7 420.6L1120.3 418.7L1122.9 418.5L1123.9 416.5L1124.8 414.0L1125.3 411.5L1125.4 409.3L1123.3 409.3L1121.2 410.5L1117.9 409.3L1115.7 409.6L1113.3 408.9L1111.9 406.6L1112.6 404.9L1111.8 403.6L1111.5 402.1L1108.7 402.1L1108.5 403.6L1107.1 402.9L1107.1 404.9L1108.7 406.8L1108.7 407.7L1107.3 407.3L1107.6 409.8L1106.5 409.8L1105.5 409.3L1104.8 407.5L1104.8 406.6L1103.5 404.5L1102.3 402.7L1102.5 400.3L1101.1 399.0L1097.6 397.1L1096.2 395.1L1095.3 393.6L1094.4 392.8L1092.5 393.6L1092.6 395.7L1094.3 397.1L1095.1 399.2L1097.6 400.1L1097.6 401.0L1099.7 402.1L1101.1 403.4L1099.0 402.9L1098.5 404.1L1099.2 405.4L1098.3 406.6L1097.2 407.3L1097.3 406.1L1097.8 404.9L1096.9 403.4L1095.5 402.3L1093.5 401.2L1092.3 400.3L1090.0 398.2L1089.7 396.5L1087.8 395.3L1085.8 396.5L1083.7 397.8L1082.1 397.3L1079.8 397.6L1079.7 399.2L1079.8 400.1L1078.5 401.0L1076.5 402.1L1075.0 404.5L1075.7 405.7L1074.4 407.9L1072.6 409.3L1069.3 409.4ZM1067.5 383.7L1070.5 383.2L1074.0 382.3L1077.2 381.5L1076.5 380.6L1077.8 378.1L1075.8 377.2L1075.4 375.8L1073.7 373.4L1073.2 371.2L1072.3 370.0L1071.0 370.0L1071.9 368.7L1072.9 366.2L1070.5 365.7L1069.8 365.9L1071.0 363.3L1068.5 363.3L1067.5 366.2L1066.8 368.2L1067.8 370.0L1068.2 371.7L1068.7 372.4L1068.3 373.2L1070.5 372.7L1071.0 374.8L1071.2 376.2L1069.2 376.5L1069.6 377.6L1069.7 378.8L1068.2 379.7L1069.6 380.4L1071.2 380.8L1071.7 380.6L1069.6 381.2ZM1061.5 380.4L1064.0 380.1L1066.7 379.0L1067.1 376.5L1067.6 373.9L1066.8 372.0L1065.0 371.7L1063.6 373.7L1061.5 374.4L1062.2 376.5L1061.1 379.0ZM1042.1 342.8L1044.2 339.7L1047.6 341.8L1050.4 340.4L1053.2 339.3L1055.3 342.1L1056.5 344.4L1054.6 346.7L1049.4 349.5L1046.9 348.9L1043.9 348.3L1044.8 346.0L1042.1 344.7L1044.8 343.4ZM1090.7 274.3L1094.8 288.3L1099.0 293.9L1101.8 281.6L1106.0 283.0L1108.7 275.8L1112.9 269.6L1103.2 265.5L1096.2 271.2ZM1146.9 322.0L1149.7 323.3L1155.3 323.7L1153.2 315.4L1154.6 308.1L1160.1 300.2L1170.5 292.7L1168.5 291.4L1158.7 295.7L1153.2 301.9L1149.0 311.6L1147.6 317.7ZM1140.7 268.8L1147.6 270.4L1156.0 268.0L1161.5 263.8L1156.0 257.4L1144.8 262.0ZM1208.0 278.1L1214.3 285.0L1221.2 281.6L1218.5 272.0L1211.5 260.2L1204.6 266.3ZM1265.7 300.2L1268.5 304.5L1274.0 304.0L1276.8 301.3L1283.7 302.9L1283.7 300.2L1276.8 297.4L1269.8 296.8ZM1269.8 311.1L1274.0 312.1L1274.7 310.1L1271.2 308.7ZM1323.3 322.0L1327.5 322.9L1328.9 320.7L1325.4 319.4ZM1272.6 374.1L1274.4 378.3L1274.4 383.9L1276.1 386.0L1273.7 390.2L1274.7 391.8L1273.3 392.2L1272.6 389.1L1272.6 383.9L1272.3 379.5ZM1269.8 400.8L1271.2 398.0L1272.2 393.4L1274.0 395.5L1277.2 396.5L1277.5 397.6L1274.7 399.9L1271.2 399.3L1270.3 399.5ZM1271.9 401.2L1272.6 404.5L1271.2 407.2L1271.2 409.8L1270.5 412.0L1268.5 412.3L1265.7 413.0L1265.0 413.7L1264.0 414.9L1262.9 413.2L1260.1 413.5L1257.3 414.0L1257.3 413.2L1259.4 411.5L1262.9 411.2L1265.0 409.8L1265.7 408.0L1267.8 408.4L1269.2 406.3L1269.8 403.6L1270.3 401.4ZM1256.0 414.9L1258.0 414.5L1258.7 416.0L1257.3 418.5L1256.2 418.7L1256.0 416.5L1255.3 415.4ZM1259.2 414.9L1262.2 413.5L1262.2 414.7L1260.1 416.0ZM1244.2 428.1L1244.8 429.2L1243.2 433.0L1242.2 431.5L1243.5 428.4ZM1226.4 437.1L1228.9 435.8L1229.6 436.7L1227.5 438.6ZM1242.8 438.1L1245.1 438.3L1244.8 441.8L1244.2 443.9L1247.6 446.1L1247.3 446.7L1244.8 444.9L1242.9 444.7L1242.1 442.5L1242.5 441.1ZM1244.8 454.6L1246.9 452.5L1249.7 450.8L1251.1 453.2L1250.7 455.3L1249.7 456.4L1247.6 455.3L1246.2 453.9ZM1244.8 447.8L1247.6 446.8L1249.7 446.8L1249.7 450.1L1246.9 451.0L1245.5 450.3ZM1238.2 452.6L1241.4 448.5L1241.1 449.9L1238.9 452.5ZM1226.8 462.2L1227.5 461.5L1230.0 460.5L1232.3 459.9L1235.1 457.3L1237.6 454.6L1238.9 455.5L1241.0 457.1L1239.3 458.3L1238.9 460.1L1240.0 462.2L1239.0 463.2L1238.6 465.3L1237.2 466.4L1236.9 469.2L1234.7 469.9L1232.3 468.7L1230.3 468.5L1228.5 467.1L1227.1 465.0ZM1207.8 456.5L1210.8 457.1L1214.3 460.1L1216.4 461.5L1219.2 464.3L1220.5 466.4L1222.6 468.5L1222.3 472.4L1220.5 472.2L1217.5 469.9L1215.4 467.4L1213.2 464.3L1211.5 461.1L1209.2 459.0ZM1221.5 473.8L1223.3 472.6L1226.1 473.6L1229.2 473.2L1231.9 474.0L1234.4 475.0L1234.3 476.3L1231.0 475.9L1226.8 475.0L1223.3 474.6ZM1246.9 478.7L1249.0 476.9L1252.1 476.0L1250.4 477.6ZM1236.5 476.1L1240.7 475.9L1246.2 475.9L1246.0 476.6L1240.7 476.6L1237.9 476.9ZM1241.4 472.1L1242.6 471.7L1242.6 468.2L1243.7 468.5L1245.3 471.0L1246.2 470.6L1245.1 468.9L1244.2 466.9L1246.7 465.7L1246.2 465.3L1243.9 465.6L1242.3 464.3L1242.1 463.6L1243.5 463.6L1246.2 463.7L1249.0 462.4L1248.3 462.1L1246.2 462.9L1243.5 462.5L1242.1 463.2L1241.5 464.6L1241.4 466.4L1240.4 468.2L1241.1 469.3ZM1252.5 461.8L1253.2 461.2L1254.2 462.9L1253.2 465.4L1252.5 463.6ZM1257.3 465.4L1259.4 464.9L1261.5 465.4L1262.2 467.8L1263.6 468.9L1266.4 466.8L1268.5 467.1L1271.2 467.9L1274.7 469.0L1277.9 471.3L1280.3 472.6L1279.6 473.8L1281.7 476.1L1284.4 479.0L1283.0 478.7L1280.0 477.6L1278.2 475.7L1276.1 475.0L1274.4 476.1L1274.0 477.1L1271.2 477.0L1269.2 475.6L1267.1 475.9L1266.7 474.5L1268.2 473.8L1267.1 472.0L1264.3 470.7L1261.5 469.7L1259.8 469.9L1258.7 468.5L1260.8 467.8L1259.0 467.4ZM1281.7 472.0L1284.4 472.0L1286.5 470.1L1286.9 471.3L1284.4 473.1L1282.3 472.9ZM1273.3 479.2L1274.7 481.8L1275.0 484.4L1277.2 485.4L1278.2 489.0L1278.6 491.2L1281.9 493.1L1283.3 496.1L1284.8 497.9L1287.5 500.2L1288.2 503.3L1288.7 505.9L1287.6 510.4L1286.2 512.9L1285.4 514.6L1284.0 518.0L1283.7 520.6L1281.0 521.3L1278.6 523.4L1276.5 522.0L1274.7 522.9L1271.2 521.6L1269.4 519.3L1268.5 517.3L1267.3 517.3L1267.8 515.9L1266.8 512.2L1265.7 514.6L1263.9 516.1L1261.8 512.9L1260.8 511.4L1257.6 510.4L1254.6 510.6L1250.4 511.7L1247.6 512.9L1246.9 514.4L1242.1 514.4L1239.2 516.4L1236.5 515.9L1235.1 515.1L1236.1 511.3L1235.1 508.0L1234.0 504.1L1232.8 501.7L1233.2 499.4L1233.3 496.4L1234.0 495.3L1237.2 493.5L1240.7 492.7L1243.5 492.1L1245.3 489.7L1246.0 487.5L1248.3 487.3L1249.7 484.7L1251.8 483.9L1253.9 485.4L1255.3 485.1L1255.4 483.2L1257.1 481.7L1259.4 480.4L1262.9 481.4L1265.4 481.4L1264.3 483.2L1263.6 485.4L1266.4 486.8L1269.2 489.0L1271.0 489.0L1271.9 485.4L1272.1 481.8ZM1276.4 526.3L1278.9 527.0L1281.4 526.7L1281.2 529.6L1280.3 531.1L1278.9 531.7L1277.2 529.6ZM1315.3 515.2L1317.8 518.8L1319.4 519.2L1319.8 520.7L1323.3 520.9L1321.9 523.7L1320.5 526.8L1318.7 527.9L1318.2 527.4L1318.5 525.6L1316.8 523.7L1318.0 521.4L1317.5 518.8L1315.7 516.3ZM1315.3 525.9L1317.3 527.4L1317.1 528.7L1315.7 532.1L1313.2 533.5L1312.5 536.4L1310.1 537.6L1309.2 537.6L1306.7 536.4L1307.3 534.4L1309.4 532.5L1312.2 530.6L1313.6 528.3L1314.6 526.5ZM1186.2 450.8L1187.6 451.3L1189.0 453.9L1188.2 455.5L1186.8 456.0L1186.2 453.9ZM1092.8 407.2L1097.1 406.8L1096.5 409.4L1092.8 407.9ZM1086.9 401.8L1088.9 401.8L1088.7 405.0L1087.2 405.4ZM1087.5 398.8L1088.6 398.2L1088.5 400.8L1087.6 400.7ZM1108.0 411.5L1111.9 411.8L1111.5 412.3L1108.2 412.0ZM1120.3 412.3L1123.3 411.3L1122.5 412.5L1121.0 413.0ZM1303.2 493.0L1307.3 496.1L1306.7 496.2L1303.2 493.8ZM1321.7 489.0L1323.5 488.8L1323.5 490.0L1321.8 490.0ZM858.7 435.6L860.1 436.2L859.3 437.4L858.7 436.7ZM1171.0 542.6L1173.3 543.0L1172.6 544.1L1171.2 543.9ZM1090.5 370.7L1092.8 370.0L1092.8 372.0L1090.7 372.4ZM1100.7 367.0L1101.8 365.2L1101.5 366.7ZM1149.6 446.7L1151.1 446.7L1150.4 447.1ZM1003.2 645.6L1011.5 647.0L1012.9 656.6L1006.0 660.6L1000.4 654.3ZM971.2 600.4L977.5 598.4L978.9 608.7L974.0 613.2L969.8 606.6ZM847.6 648.4L853.2 649.1L853.2 658.2L847.6 658.2ZM825.4 705.9L839.3 710.4L853.2 713.5L864.3 699.0L867.1 658.2L862.9 640.3L867.1 634.1L881.0 627.3L894.8 623.0L908.7 620.5L922.6 623.0L933.7 618.0L936.5 612.3L942.1 613.2L950.4 615.6L964.3 617.0L971.2 615.6L975.4 610.9L976.8 600.4L981.0 592.8L983.7 587.5L987.2 583.5L992.1 580.0L996.2 578.8L994.8 582.6L990.7 585.8L988.6 591.0L985.1 596.5L989.3 604.5L990.7 613.2L990.7 622.0L985.1 634.1L971.2 650.5L964.3 666.6L978.2 686.7L994.8 684.4L1003.2 671.2L1010.1 660.6L1008.7 650.5L1014.3 656.6L1022.6 650.5L1028.2 642.2L1036.5 631.2L1040.7 625.7L1047.6 618.0L1054.6 613.2L1061.5 606.6L1068.5 605.3L1075.4 601.6L1089.3 602.4L1103.2 602.4L1117.1 599.6L1124.0 598.4L1131.0 596.5L1137.9 593.5L1144.8 590.3L1151.8 587.5L1158.7 592.1L1165.7 593.5L1172.6 596.5L1175.4 602.4L1179.6 600.4L1183.7 595.8L1189.3 591.0L1196.2 590.3L1204.6 589.3L1214.3 587.5L1221.2 589.3L1228.2 587.5L1235.1 589.3L1242.1 590.3L1253.2 590.3L1262.9 587.5L1269.8 590.0L1276.8 591.0L1283.7 595.8L1290.7 598.4L1297.6 602.4L1304.6 605.7L1312.2 607.9L1311.5 615.6L1306.0 625.7L1302.5 637.2L1304.6 647.0L1300.4 658.2L1297.6 676.0L1304.6 692.6L1314.3 703.0L1325.4 705.9L1325.4 714.3L825.4 714.3Z"/>
<path fill="#c7c7c7" d="M114.3 400.8L113.7 399.0L114.3 397.5L115.3 395.7L116.6 393.6L117.8 391.8L119.6 391.0L121.9 392.2L120.7 393.4L121.9 395.1L123.0 395.3L124.6 394.2L126.2 393.8L127.5 394.8L130.3 396.7L133.0 398.6L133.2 400.8L131.0 401.8L128.9 401.8L126.1 401.2L124.0 399.9L121.9 399.9L119.1 401.4L116.0 401.4ZM124.0 392.8L124.4 391.4L126.8 390.4L128.6 389.8L129.8 390.0L128.2 391.6L127.5 393.2L126.2 393.4L124.7 393.4ZM140.7 394.2L143.5 391.2L146.2 390.6L149.0 391.2L149.0 393.6L146.5 395.1L145.3 395.5L146.9 397.6L148.6 399.0L148.3 400.5L150.1 402.1L149.7 404.5L150.1 408.4L147.6 409.3L145.5 408.4L143.5 407.9L143.3 405.7L144.1 403.0L142.8 400.3L141.4 398.0L141.4 396.1L140.3 395.1ZM156.6 394.2L158.7 391.2L160.8 392.2L159.4 396.1L157.1 396.7ZM219.6 380.6L221.9 380.4L225.4 377.2L227.9 371.2L227.1 370.7L224.0 376.0L221.2 378.8ZM177.5 393.2L178.9 391.2L184.4 390.8L185.1 391.6L180.3 392.6L178.2 394.2ZM-52.4 390.8L-48.2 388.1L-44.0 387.1L-42.4 390.2L-42.4 391.2L-45.4 391.2L-49.6 390.8ZM-46.5 400.5L-44.5 399.9L-44.3 396.1L-42.7 392.6L-44.7 392.6L-46.5 395.1L-46.5 398.0ZM-42.0 392.2L-37.8 392.2L-35.7 394.2L-37.8 395.1L-38.1 397.6L-39.2 398.0L-40.6 396.1L-40.3 394.2ZM-40.3 400.5L-34.3 398.4L-34.3 398.0L-37.1 398.6L-39.9 399.5ZM-35.3 397.5L-30.6 397.1L-30.6 395.7L-34.3 396.3ZM-61.4 382.8L-58.6 382.8L-60.0 378.3L-60.7 375.3L-62.1 377.2ZM-87.1 356.7L-84.3 357.3L-80.2 355.2L-76.7 351.7L-78.8 351.4L-82.9 353.8ZM-96.1 343.8L-92.7 344.4L-88.5 341.8L-89.2 337.6L-92.7 338.3L-96.8 341.1ZM119.4 465.0L121.9 463.9L123.3 465.0L121.9 467.8L119.8 467.8ZM116.0 469.0L116.8 470.6L117.8 473.3L118.5 476.1L117.8 476.4L116.4 472.6L115.7 469.9ZM122.6 477.6L123.5 479.7L124.0 483.2L124.0 484.4L123.2 483.9L122.9 480.4L122.5 478.3ZM118.2 359.5L120.5 358.9L121.2 356.7L119.1 354.7L117.1 356.1ZM123.3 356.7L125.4 356.1L125.7 353.8L124.0 351.7L123.7 354.4ZM614.3 400.8L613.7 399.0L614.3 397.5L615.3 395.7L616.6 393.6L617.8 391.8L619.6 391.0L621.9 392.2L620.7 393.4L621.9 395.1L623.0 395.3L624.6 394.2L626.2 393.8L627.5 394.8L630.3 396.7L633.0 398.6L633.2 400.8L631.0 401.8L628.9 401.8L626.1 401.2L624.0 399.9L621.9 399.9L619.1 401.4L616.0 401.4ZM624.0 392.8L624.4 391.4L626.8 390.4L628.6 389.8L629.8 390.0L628.2 391.6L627.5 393.2L626.2 393.4L624.7 393.4ZM640.7 394.2L643.5 391.2L646.2 390.6L649.0 391.2L649.0 393.6L646.5 395.1L645.3 395.5L646.9 397.6L648.6 399.0L648.3 400.5L650.1 402.1L649.7 404.5L650.1 408.4L647.6 409.3L645.5 408.4L643.5 407.9L643.3 405.7L644.1 403.0L642.8 400.3L641.4 398.0L641.4 396.1L640.3 395.1ZM656.6 394.2L658.7 391.2L660.8 392.2L659.4 396.1L657.1 396.7ZM719.6 380.6L721.9 380.4L725.4 377.2L727.9 371.2L727.1 370.7L724.0 376.0L721.2 378.8ZM677.5 393.2L678.9 391.2L684.4 390.8L685.1 391.6L680.3 392.6L678.2 394.2ZM447.6 390.8L451.8 388.1L456.0 387.1L457.6 390.2L457.6 391.2L454.6 391.2L450.4 390.8ZM453.5 400.5L455.5 399.9L455.7 396.1L457.3 392.6L455.3 392.6L453.5 395.1L453.5 398.0ZM458.0 392.2L462.2 392.2L464.3 394.2L462.2 395.1L461.9 397.6L460.8 398.0L459.4 396.1L459.7 394.2ZM459.7 400.5L465.7 398.4L465.7 398.0L462.9 398.6L460.1 399.5ZM464.7 397.5L469.4 397.1L469.4 395.7L465.7 396.3ZM438.6 382.8L441.4 382.8L440.0 378.3L439.3 375.3L437.9 377.2ZM412.9 356.7L415.7 357.3L419.8 355.2L423.3 351.7L421.2 351.4L417.1 353.8ZM403.9 343.8L407.3 344.4L411.5 341.8L410.8 337.6L407.3 338.3L403.2 341.1ZM619.4 465.0L621.9 463.9L623.3 465.0L621.9 467.8L619.8 467.8ZM616.0 469.0L616.8 470.6L617.8 473.3L618.5 476.1L617.8 476.4L616.4 472.6L615.7 469.9ZM622.6 477.6L623.5 479.7L624.0 483.2L624.0 484.4L623.2 483.9L622.9 480.4L622.5 478.3ZM618.2 359.5L620.5 358.9L621.2 356.7L619.1 354.7L617.1 356.1ZM623.3 356.7L625.4 356.1L625.7 353.8L624.0 351.7L623.7 354.4ZM1114.3 400.8L1113.7 399.0L1114.3 397.5L1115.3 395.7L1116.7 393.6L1117.8 391.8L1119.6 391.0L1121.9 392.2L1120.7 393.4L1121.9 395.1L1123.0 395.3L1124.6 394.2L1126.2 393.8L1127.5 394.8L1130.3 396.7L1133.0 398.6L1133.2 400.8L1131.0 401.8L1128.9 401.8L1126.1 401.2L1124.0 399.9L1121.9 399.9L1119.2 401.4L1116.0 401.4ZM1124.0 392.8L1124.4 391.4L1126.8 390.4L1128.6 389.8L1129.8 390.0L1128.2 391.6L1127.5 393.2L1126.2 393.4L1124.7 393.4ZM1140.7 394.2L1143.5 391.2L1146.2 390.6L1149.0 391.2L1149.0 393.6L1146.5 395.1L1145.3 395.5L1146.9 397.6L1148.6 399.0L1148.3 400.5L1150.1 402.1L1149.7 404.5L1150.1 408.4L1147.6 409.3L1145.5 408.4L1143.5 407.9L1143.3 405.7L1144.2 403.0L1142.8 400.3L1141.4 398.0L1141.4 396.1L1140.3 395.1ZM1156.7 394.2L1158.7 391.2L1160.8 392.2L1159.4 396.1L1157.1 396.7ZM1219.6 380.6L1221.9 380.4L1225.4 377.2L1227.9 371.2L1227.1 370.7L1224.0 376.0L1221.2 378.8ZM1177.5 393.2L1178.9 391.2L1184.4 390.8L1185.1 391.6L1180.3 392.6L1178.2 394.2ZM947.6 390.8L951.8 388.1L956.0 387.1L957.6 390.2L957.6 391.2L954.6 391.2L950.4 390.8ZM953.5 400.5L955.5 399.9L955.7 396.1L957.3 392.6L955.3 392.6L953.5 395.1L953.5 398.0ZM958.0 392.2L962.2 392.2L964.3 394.2L962.2 395.1L961.9 397.6L960.8 398.0L959.4 396.1L959.7 394.2ZM959.7 400.5L965.7 398.4L965.7 398.0L962.9 398.6L960.1 399.5ZM964.7 397.5L969.4 397.1L969.4 395.7L965.7 396.3ZM938.6 382.8L941.4 382.8L940.0 378.3L939.3 375.3L937.9 377.2ZM912.9 356.7L915.7 357.3L919.8 355.2L923.3 351.7L921.2 351.4L917.1 353.8ZM903.9 343.8L907.3 344.4L911.5 341.8L910.8 337.6L907.3 338.3L903.2 341.1ZM1119.4 465.0L1121.9 463.9L1123.3 465.0L1121.9 467.8L1119.8 467.8ZM1116.0 469.0L1116.8 470.6L1117.8 473.3L1118.5 476.1L1117.8 476.4L1116.4 472.6L1115.7 469.9ZM1122.6 477.6L1123.5 479.7L1124.0 483.2L1124.0 484.4L1123.2 483.9L1122.9 480.4L1122.5 478.3ZM1118.2 359.5L1120.5 358.9L1121.2 356.7L1119.2 354.7L1117.1 356.1ZM1123.3 356.7L1125.4 356.1L1125.7 353.8L1124.0 351.7L1123.7 354.4Z"/>
<g font-family="Liberation Sans, sans-serif">
<text x="855" y="271.6" font-size="11" fill="#a2a2a2" text-anchor="middle" textLength="41" lengthAdjust="spacingAndGlyphs">Océano</text>
<text x="855.2" y="284.9" font-size="11" fill="#a2a2a2" text-anchor="middle" textLength="32" lengthAdjust="spacingAndGlyphs">Ártico</text>
<text x="527.5" y="422.8" font-size="11" fill="#a2a2a2" text-anchor="middle" textLength="39.5" lengthAdjust="spacingAndGlyphs">Océano</text>
<text x="525.5" y="435.8" font-size="11" fill="#a2a2a2" text-anchor="middle" textLength="45.4" lengthAdjust="spacingAndGlyphs">Atlántico</text>
<text x="856.6" y="420.1" font-size="11" fill="#a2a2a2" text-anchor="middle" textLength="40" lengthAdjust="spacingAndGlyphs">Océano</text>
<text x="854.4" y="432.3" font-size="11" fill="#a2a2a2" text-anchor="middle" textLength="38.5" lengthAdjust="spacingAndGlyphs">Pacífico</text>
<text x="695.2" y="499.1" font-size="11" fill="#a2a2a2" text-anchor="middle" textLength="39.5" lengthAdjust="spacingAndGlyphs">Océano</text>
<text x="694.4" y="511.1" font-size="11" fill="#a2a2a2" text-anchor="middle" textLength="31.8" lengthAdjust="spacingAndGlyphs">Índico</text>
</g>
<g font-family="Liberation Sans, sans-serif">
<text x="455" y="375.4" font-size="16.5" fill="#5e5e68" text-anchor="middle" textLength="75" lengthAdjust="spacingAndGlyphs">AMÉRICA</text>
<text x="455" y="394.8" font-size="16.5" fill="#5e5e68" text-anchor="middle" textLength="30.7" lengthAdjust="spacingAndGlyphs">DEL</text>
<text x="455" y="414.3" font-size="16.5" fill="#5e5e68" text-anchor="middle" textLength="54.6" lengthAdjust="spacingAndGlyphs">NORTE</text>
<text x="626.6" y="390.1" font-size="16.5" fill="#5e5e68" text-anchor="middle" textLength="63.7" lengthAdjust="spacingAndGlyphs">EUROPA</text>
<text x="730.9" y="379.6" font-size="16.5" fill="#5e5e68" text-anchor="middle" textLength="35.8" lengthAdjust="spacingAndGlyphs">ASIA</text>
<text x="627" y="464.5" font-size="16.5" fill="#5e5e68" text-anchor="middle" textLength="54.2" lengthAdjust="spacingAndGlyphs">ÁFRICA</text>
<text x="524.2" y="486.6" font-size="16.5" fill="#5e5e68" text-anchor="middle" textLength="74.7" lengthAdjust="spacingAndGlyphs">AMÉRICA</text>
<text x="524" y="506.7" font-size="16.5" fill="#5e5e68" text-anchor="middle" textLength="28" lengthAdjust="spacingAndGlyphs">DEL</text>
<text x="524.6" y="525.5" font-size="16.5" fill="#5e5e68" text-anchor="middle" textLength="33" lengthAdjust="spacingAndGlyphs">SUR</text>
<text x="789.7" y="505.5" font-size="16.5" fill="#5e5e68" text-anchor="middle" textLength="74.9" lengthAdjust="spacingAndGlyphs">OCEANÍA</text>
<text x="678.9" y="630.9" font-size="16.5" fill="#5e5e68" text-anchor="middle" textLength="92.8" lengthAdjust="spacingAndGlyphs">ANTÁRTIDA</text>
</g>
<g fill="#ee4a5e" fill-opacity="0.7" stroke="#ad2640" stroke-opacity="0.8" stroke-width="1.8">
<circle cx="550.0" cy="345.0" r="6.0"/>
<circle cx="517.5" cy="304.8" r="4.3"/>
<circle cx="441.3" cy="352.2" r="4.3"/>
<circle cx="436.5" cy="405.3" r="4.3"/>
<circle cx="432.6" cy="430.9" r="4.3"/>
<circle cx="450.1" cy="442.1" r="4.3"/>
<circle cx="455.6" cy="442.9" r="4.3"/>
<circle cx="459.1" cy="450.7" r="4.3"/>
<circle cx="463.2" cy="452.4" r="4.3"/>
<circle cx="467.4" cy="433.7" r="4.3"/>
<circle cx="468.0" cy="438.7" r="4.3"/>
<circle cx="478.0" cy="437.8" r="4.3"/>
<circle cx="489.6" cy="440.2" r="4.3"/>
<circle cx="489.9" cy="441.4" r="4.3"/>
<circle cx="490.6" cy="443.7" r="4.3"/>
<circle cx="490.7" cy="444.8" r="4.3"/>
<circle cx="490.3" cy="446.1" r="4.3"/>
<circle cx="492.7" cy="445.8" r="4.3"/>
<circle cx="490.4" cy="449.4" r="4.3"/>
<circle cx="472.2" cy="457.9" r="4.3"/>
<circle cx="482.9" cy="455.4" r="4.3"/>
<circle cx="497.6" cy="459.4" r="4.3"/>
<circle cx="466.8" cy="466.8" r="4.3"/>
<circle cx="471.2" cy="477.1" r="4.3"/>
<circle cx="501.3" cy="480.5" r="4.3"/>
<circle cx="487.1" cy="487.2" r="4.3"/>
<circle cx="494.2" cy="497.8" r="4.3"/>
<circle cx="476.0" cy="517.4" r="4.3"/>
<circle cx="484.9" cy="517.5" r="4.3"/>
<circle cx="497.4" cy="513.8" r="4.3"/>
<circle cx="594.3" cy="347.5" r="5"/>
<circle cx="598.8" cy="351.9" r="4.3"/>
<circle cx="612.0" cy="346.8" r="4.3"/>
<circle cx="588.6" cy="369.3" r="5"/>
<circle cx="611.5" cy="363.4" r="5"/>
<circle cx="610.3" cy="368.4" r="4.3"/>
<circle cx="609.3" cy="372.8" r="4.3"/>
<circle cx="571.9" cy="375.3" r="4.3"/>
<circle cx="564.0" cy="376.2" r="4.3"/>
<circle cx="582.7" cy="379.2" r="4.3"/>
<circle cx="581.6" cy="382.8" r="4.3"/>
<circle cx="583.9" cy="384.3" r="5"/>
<circle cx="589.9" cy="381.3" r="4.3"/>
<circle cx="602.0" cy="379.6" r="4.3"/>
<circle cx="596.9" cy="384.3" r="4.3"/>
<circle cx="602.8" cy="386.7" r="4.3"/>
<circle cx="595.6" cy="389.1" r="5"/>
<circle cx="586.8" cy="390.5" r="5.5"/>
<circle cx="588.7" cy="389.8" r="5"/>
<circle cx="578.5" cy="391.7" r="4.3"/>
<circle cx="585.7" cy="396.6" r="5"/>
<circle cx="577.6" cy="398.9" r="6"/>
<circle cx="570.2" cy="402.8" r="5"/>
<circle cx="564.0" cy="404.7" r="4.3"/>
<circle cx="592.9" cy="400.2" r="6"/>
<circle cx="590.8" cy="403.7" r="8.6"/>
<circle cx="592.7" cy="400.1" r="4.3"/>
<circle cx="595.4" cy="410.7" r="4.3"/>
<circle cx="596.2" cy="391.9" r="5"/>
<circle cx="596.5" cy="394.0" r="4.3"/>
<circle cx="600.0" cy="396.3" r="4.3"/>
<circle cx="604.6" cy="396.1" r="4.3"/>
<circle cx="602.3" cy="398.6" r="4.3"/>
<circle cx="604.4" cy="398.8" r="4.3"/>
<circle cx="603.4" cy="401.5" r="4.3"/>
<circle cx="605.6" cy="400.6" r="4.3"/>
<circle cx="605.7" cy="405.3" r="4.3"/>
<circle cx="610.8" cy="398.5" r="4.3"/>
<circle cx="610.1" cy="392.3" r="4.3"/>
<circle cx="614.8" cy="389.3" r="4.3"/>
<circle cx="602.5" cy="389.8" r="4.3"/>
<circle cx="618.7" cy="387.3" r="4.3"/>
<circle cx="615.2" cy="376.3" r="4.3"/>
<circle cx="714.7" cy="355.3" r="4.3"/>
<circle cx="572.4" cy="385.6" r="4.3"/>
<circle cx="571.8" cy="385.0" r="4.3"/>
<circle cx="624.3" cy="405.5" r="4.3"/>
<circle cx="621.8" cy="412.1" r="4.3"/>
<circle cx="635.6" cy="399.3" r="4.3"/>
<circle cx="638.0" cy="403.5" r="4.3"/>
<circle cx="641.5" cy="403.3" r="4.3"/>
<circle cx="625.2" cy="414.3" r="4.3"/>
<circle cx="623.8" cy="418.9" r="4.3"/>
<circle cx="625.7" cy="419.6" r="4.3"/>
<circle cx="636.1" cy="415.3" r="4.3"/>
<circle cx="650.0" cy="416.6" r="5"/>
<circle cx="641.3" cy="421.7" r="4.3"/>
<circle cx="645.7" cy="427.0" r="5"/>
<circle cx="646.5" cy="427.9" r="5"/>
<circle cx="650.2" cy="430.8" r="4.3"/>
<circle cx="653.1" cy="433.7" r="4.3"/>
<circle cx="638.0" cy="430.1" r="4.3"/>
<circle cx="668.3" cy="388.1" r="4.3"/>
<circle cx="665.1" cy="401.1" r="4.3"/>
<circle cx="669.4" cy="414.1" r="4.3"/>
<circle cx="671.7" cy="420.0" r="4.3"/>
<circle cx="685.1" cy="435.1" r="4.3"/>
<circle cx="692.2" cy="423.1" r="4.3"/>
<circle cx="701.0" cy="424.5" r="4.3"/>
<circle cx="700.9" cy="430.4" r="4.3"/>
<circle cx="687.6" cy="453.3" r="4.3"/>
<circle cx="677.7" cy="463.1" r="4.3"/>
<circle cx="719.0" cy="391.2" r="4.3"/>
<circle cx="719.8" cy="410.6" r="4.3"/>
<circle cx="767.9" cy="410.3" r="4.3"/>
<circle cx="725.8" cy="444.6" r="4.3"/>
<circle cx="721.2" cy="446.7" r="4.3"/>
<circle cx="715.7" cy="442.0" r="4.3"/>
<circle cx="720.0" cy="462.6" r="4.3"/>
<circle cx="720.4" cy="463.6" r="4.3"/>
<circle cx="734.7" cy="458.0" r="5"/>
<circle cx="744.5" cy="446.3" r="4.3"/>
<circle cx="733.6" cy="465.4" r="4.3"/>
<circle cx="762.5" cy="501.8" r="4.3"/>
<circle cx="813.0" cy="533.0" r="4.3"/>
<circle cx="565.6" cy="417.7" r="4.3"/>
<circle cx="577.7" cy="423.7" r="4.3"/>
<circle cx="588.6" cy="414.2" r="4.3"/>
<circle cx="618.2" cy="425.6" r="4.3"/>
<circle cx="617.4" cy="446.3" r="4.3"/>
<circle cx="631.6" cy="451.5" r="4.3"/>
<circle cx="639.6" cy="457.1" r="4.3"/>
<circle cx="628.1" cy="464.3" r="4.3"/>
<circle cx="623.9" cy="473.2" r="4.3"/>
<circle cx="616.9" cy="467.0" r="4.3"/>
<circle cx="591.5" cy="465.4" r="4.3"/>
<circle cx="589.7" cy="462.0" r="4.3"/>
<circle cx="592.6" cy="454.0" r="4.3"/>
<circle cx="604.5" cy="455.1" r="4.3"/>
<circle cx="587.5" cy="451.6" r="4.3"/>
<circle cx="578.6" cy="451.3" r="4.3"/>
<circle cx="576.5" cy="452.3" r="4.3"/>
<circle cx="574.0" cy="453.2" r="4.3"/>
<circle cx="567.7" cy="453.8" r="4.3"/>
<circle cx="562.3" cy="455.4" r="4.3"/>
<circle cx="561.9" cy="450.4" r="4.3"/>
<circle cx="555.3" cy="443.9" r="4.3"/>
<circle cx="554.1" cy="445.5" r="4.3"/>
<circle cx="560.2" cy="434.4" r="4.3"/>
<circle cx="573.2" cy="447.2" r="4.3"/>
<circle cx="599.3" cy="496.4" r="4.3"/>
<circle cx="610.1" cy="507.1" r="4.3"/>
<circle cx="619.2" cy="503.6" r="4.3"/>
<circle cx="652.8" cy="471.7" r="4.3"/>
</g>
<g font-family="Liberation Sans, sans-serif">
<path d="M249.2 674.5L252.7 675.7L252.7 685.4L257 683L254.7 681.9L253.4 678.9L261.2 681.7L261.2 685.4L252.7 690.2L249.2 688.2Z" fill="#111"/>
<text x="265.9" y="686.9" font-size="14.5" fill="#555" textLength="25.7" lengthAdjust="spacingAndGlyphs">Bing</text>
<text x="833" y="692.2" font-size="8" fill="#777" textLength="117" lengthAdjust="spacingAndGlyphs">© 2020 Microsoft Corporation</text>
<text x="954" y="692.2" font-size="8" fill="#5b7fb5" text-decoration="underline" textLength="23" lengthAdjust="spacingAndGlyphs">Terms</text>
</g></svg>
<div class="abs grid" style="left:145.5px;top:228px;height:420px"></div>
<div class="abs grid" style="left:175.2px;top:228px;height:420px"></div>
<div class="abs grid" style="left:204.9px;top:228px;height:420px"></div>
<div class="abs" style="left:146px;top:234.60px;width:48.21px;height:15.4px;background:#d64550"></div>
<span class="t" style="left:78.86px;top:236.15px;font-size:11px;line-height:12.639px;color:#5f5f5f;transform:scaleX(1.0300);">San Marino</span>
<span class="t" style="left:153.30px;top:236.54px;font-size:11px;line-height:12.639px;color:#8a3038;transform:scaleX(0.9829);">0,32466 %</span>
<div class="abs" style="left:146px;top:254.97px;width:8.97px;height:15.4px;background:#d64550"></div>
<span class="t" style="left:100.26px;top:256.52px;font-size:11px;line-height:12.639px;color:#5f5f5f;transform:scaleX(1.0300);">Iceland</span>
<span class="t" style="left:153.30px;top:256.92px;font-size:11px;line-height:12.639px;color:#5f5f5f;transform:scaleX(0.9829);">0,06040 %</span>
<div class="abs" style="left:146px;top:275.34px;width:7.77px;height:15.4px;background:#d64550"></div>
<span class="t" style="left:116.02px;top:276.89px;font-size:11px;line-height:12.639px;color:#5f5f5f;transform:scaleX(1.0300);">Italy</span>
<span class="t" style="left:153.30px;top:277.29px;font-size:11px;line-height:12.639px;color:#5f5f5f;transform:scaleX(0.9829);">0,05230 %</span>
<div class="abs" style="left:146px;top:295.71px;width:7.47px;height:15.4px;background:#d64550"></div>
<span class="t" style="left:96.49px;top:297.26px;font-size:11px;line-height:12.639px;color:#5f5f5f;transform:scaleX(1.0300);">Andorra</span>
<span class="t" style="left:153.30px;top:297.66px;font-size:11px;line-height:12.639px;color:#5f5f5f;transform:scaleX(0.9829);">0,05029 %</span>
<div class="abs" style="left:146px;top:316.08px;width:4.67px;height:15.4px;background:#d64550"></div>
<span class="t" style="left:78.24px;top:317.63px;font-size:11px;line-height:12.639px;color:#5f5f5f;transform:scaleX(1.0300);">Switzerland</span>
<span class="t" style="left:153.30px;top:318.03px;font-size:11px;line-height:12.639px;color:#5f5f5f;transform:scaleX(0.9829);">0,03144 %</span>
<div class="abs" style="left:146px;top:336.45px;width:4.05px;height:15.4px;background:#d64550"></div>
<span class="t" style="left:98.40px;top:338.00px;font-size:11px;line-height:12.639px;color:#5f5f5f;transform:scaleX(1.0300);">Norway</span>
<span class="t" style="left:153.30px;top:338.40px;font-size:11px;line-height:12.639px;color:#5f5f5f;transform:scaleX(0.9829);">0,02726 %</span>
<div class="abs" style="left:146px;top:356.82px;width:3.70px;height:15.4px;background:#d64550"></div>
<span class="t" style="left:107.82px;top:358.37px;font-size:11px;line-height:12.639px;color:#5f5f5f;transform:scaleX(1.0300);">Spain</span>
<span class="t" style="left:153.30px;top:358.76px;font-size:11px;line-height:12.639px;color:#5f5f5f;transform:scaleX(0.9829);">0,02494 %</span>
<div class="abs" style="left:146px;top:377.19px;width:3.39px;height:15.4px;background:#d64550"></div>
<span class="t" style="left:73.82px;top:378.74px;font-size:11px;line-height:12.639px;color:#5f5f5f;transform:scaleX(1.0300);">Luxembourg</span>
<span class="t" style="left:153.30px;top:379.13px;font-size:11px;line-height:12.639px;color:#5f5f5f;transform:scaleX(0.9829);">0,02281 %</span>
<div class="abs" style="left:146px;top:397.56px;width:2.88px;height:15.4px;background:#d64550"></div>
<span class="t" style="left:117.28px;top:399.11px;font-size:11px;line-height:12.639px;color:#5f5f5f;transform:scaleX(1.0300);">Iran</span>
<span class="t" style="left:153.30px;top:399.50px;font-size:11px;line-height:12.639px;color:#5f5f5f;transform:scaleX(0.9829);">0,01941 %</span>
<div class="abs" style="left:146px;top:417.93px;width:2.71px;height:15.4px;background:#d64550"></div>
<span class="t" style="left:96.49px;top:419.48px;font-size:11px;line-height:12.639px;color:#5f5f5f;transform:scaleX(1.0300);">Monaco</span>
<span class="t" style="left:153.30px;top:419.88px;font-size:11px;line-height:12.639px;color:#5f5f5f;transform:scaleX(0.9829);">0,01828 %</span>
<div class="abs" style="left:146px;top:438.30px;width:2.68px;height:15.4px;background:#d64550"></div>
<span class="t" style="left:70.03px;top:439.85px;font-size:11px;line-height:12.639px;color:#5f5f5f;transform:scaleX(1.0300);">Liechtenstein</span>
<span class="t" style="left:153.30px;top:440.25px;font-size:11px;line-height:12.639px;color:#5f5f5f;transform:scaleX(0.9829);">0,01806 %</span>
<div class="abs" style="left:146px;top:458.67px;width:2.61px;height:15.4px;background:#d64550"></div>
<span class="t" style="left:90.84px;top:460.22px;font-size:11px;line-height:12.639px;color:#5f5f5f;transform:scaleX(1.0300);">Denmark</span>
<span class="t" style="left:153.30px;top:460.62px;font-size:11px;line-height:12.639px;color:#5f5f5f;transform:scaleX(0.9829);">0,01759 %</span>
<div class="abs" style="left:146px;top:479.04px;width:2.52px;height:15.4px;background:#d64550"></div>
<span class="t" style="left:99.01px;top:480.59px;font-size:11px;line-height:12.639px;color:#5f5f5f;transform:scaleX(1.0300);">Estonia</span>
<span class="t" style="left:153.30px;top:480.99px;font-size:11px;line-height:12.639px;color:#5f5f5f;transform:scaleX(0.9829);">0,01694 %</span>
<div class="abs" style="left:146px;top:499.41px;width:2.37px;height:15.4px;background:#d64550"></div>
<span class="t" style="left:108.46px;top:500.96px;font-size:11px;line-height:12.639px;color:#5f5f5f;transform:scaleX(1.0300);">Qatar</span>
<span class="t" style="left:153.30px;top:501.36px;font-size:11px;line-height:12.639px;color:#5f5f5f;transform:scaleX(0.9829);">0,01598 %</span>
<div class="abs" style="left:146px;top:519.78px;width:2.22px;height:15.4px;background:#d64550"></div>
<span class="t" style="left:101.54px;top:521.32px;font-size:11px;line-height:12.639px;color:#5f5f5f;transform:scaleX(1.0300);">Austria</span>
<span class="t" style="left:153.30px;top:521.73px;font-size:11px;line-height:12.639px;color:#5f5f5f;transform:scaleX(0.9829);">0,01496 %</span>
<div class="abs" style="left:146px;top:540.15px;width:2.19px;height:15.4px;background:#d64550"></div>
<span class="t" style="left:97.75px;top:541.69px;font-size:11px;line-height:12.639px;color:#5f5f5f;transform:scaleX(1.0300);">Bahrain</span>
<span class="t" style="left:153.30px;top:542.10px;font-size:11px;line-height:12.639px;color:#5f5f5f;transform:scaleX(0.9829);">0,01477 %</span>
<div class="abs" style="left:146px;top:560.52px;width:1.95px;height:15.4px;background:#d64550"></div>
<span class="t" style="left:93.34px;top:562.06px;font-size:11px;line-height:12.639px;color:#5f5f5f;transform:scaleX(1.0300);">Slovenia</span>
<span class="t" style="left:153.30px;top:562.47px;font-size:11px;line-height:12.639px;color:#5f5f5f;transform:scaleX(0.9829);">0,01313 %</span>
<div class="abs" style="left:146px;top:580.89px;width:1.88px;height:15.4px;background:#d64550"></div>
<span class="t" style="left:104.05px;top:582.43px;font-size:11px;line-height:12.639px;color:#5f5f5f;transform:scaleX(1.0300);">Brunei</span>
<span class="t" style="left:153.30px;top:582.84px;font-size:11px;line-height:12.639px;color:#5f5f5f;transform:scaleX(0.9829);">0,01266 %</span>
<div class="abs" style="left:146px;top:601.26px;width:1.80px;height:15.4px;background:#d64550"></div>
<span class="t" style="left:95.86px;top:602.80px;font-size:11px;line-height:12.639px;color:#5f5f5f;transform:scaleX(1.0300);">Sweden</span>
<span class="t" style="left:153.30px;top:603.21px;font-size:11px;line-height:12.639px;color:#5f5f5f;">0,01152 %</span>
<div class="abs" style="left:146px;top:621.63px;width:1.80px;height:15.4px;background:#d64550"></div>
<span class="t" style="left:101.54px;top:623.17px;font-size:11px;line-height:12.639px;color:#5f5f5f;transform:scaleX(1.0300);">France</span>
<span class="t" style="left:153.30px;top:623.58px;font-size:11px;line-height:12.639px;color:#5f5f5f;">0,01148 %</span>
<span class="t" style="left:138.35px;top:658.04px;font-size:11px;line-height:12.639px;color:#666;">0,0</span>
<span class="t" style="left:141.11px;top:673.54px;font-size:11px;line-height:12.639px;color:#666;">%</span>
<span class="t" style="left:168.05px;top:658.04px;font-size:11px;line-height:12.639px;color:#666;">0,2</span>
<span class="t" style="left:170.81px;top:673.54px;font-size:11px;line-height:12.639px;color:#666;">%</span>
<span class="t" style="left:197.75px;top:658.04px;font-size:11px;line-height:12.639px;color:#666;">0,4</span>
<span class="t" style="left:200.51px;top:673.54px;font-size:11px;line-height:12.639px;color:#666;">%</span>
<span class="t" style="left:146.10px;top:688.90px;font-size:9.5px;line-height:10.915px;color:#666;font-weight:700;transform:scaleX(0.9950);">% Afectado...</span>
<span class="t rot" style="left:11.5px;top:430px;font-size:10px;line-height:12px;color:#484848">Pais</span>
<div class="abs" style="left:219.5px;top:226px;width:6.5px;height:418px;border-radius:3.5px;background:#ececec"></div>
<div class="abs" style="left:219.5px;top:226.5px;width:6.5px;height:60px;border-radius:3.5px;background:#b4b4b4"></div>
<div class="abs grid" style="left:1133.5px;top:228px;height:435px"></div>
<div class="abs grid" style="left:1174.4px;top:228px;height:435px"></div>
<div class="abs grid" style="left:1215.3px;top:228px;height:435px"></div>
<div class="abs" style="left:1134px;top:234.60px;width:81.80px;height:15.4px;background:#d64550"></div>
<span class="t" style="left:1092.24px;top:236.15px;font-size:11px;line-height:12.639px;color:#5f5f5f;transform:scaleX(1.0300);">Sudan</span>
<span class="t" style="left:1164.50px;top:236.39px;font-size:11.5px;line-height:13.213px;color:#fff;font-weight:700;transform:scaleX(0.9516);">100,00%</span>
<div class="abs" style="left:1134px;top:254.98px;width:13.64px;height:15.4px;background:#d64550"></div>
<span class="t" style="left:1069.58px;top:256.52px;font-size:11px;line-height:12.639px;color:#5f5f5f;transform:scaleX(1.0300);">Guatemala</span>
<span class="t" style="left:1156.44px;top:256.92px;font-size:11px;line-height:12.639px;color:#5f5f5f;transform:scaleX(0.9800);">16,67%</span>
<div class="abs" style="left:1134px;top:275.35px;width:11.69px;height:15.4px;background:#d64550"></div>
<span class="t" style="left:1085.96px;top:276.90px;font-size:11px;line-height:12.639px;color:#5f5f5f;transform:scaleX(1.0300);">Ukraine</span>
<span class="t" style="left:1154.49px;top:277.30px;font-size:11px;line-height:12.639px;color:#5f5f5f;transform:scaleX(0.9800);">14,29%</span>
<div class="abs" style="left:1134px;top:295.73px;width:6.49px;height:15.4px;background:#d64550"></div>
<span class="t" style="left:1104.22px;top:297.27px;font-size:11px;line-height:12.639px;color:#5f5f5f;transform:scaleX(1.0300);">Italy</span>
<span class="t" style="left:1149.29px;top:297.67px;font-size:11px;line-height:12.639px;color:#5f5f5f;transform:scaleX(0.9800);">7,94%</span>
<div class="abs" style="left:1134px;top:316.10px;width:5.84px;height:15.4px;background:#d64550"></div>
<span class="t" style="left:1105.48px;top:317.65px;font-size:11px;line-height:12.639px;color:#5f5f5f;transform:scaleX(1.0300);">Iraq</span>
<span class="t" style="left:1148.64px;top:318.05px;font-size:11px;line-height:12.639px;color:#5f5f5f;transform:scaleX(0.9800);">7,14%</span>
<div class="abs" style="left:1134px;top:336.48px;width:5.46px;height:15.4px;background:#d64550"></div>
<span class="t" style="left:1089.73px;top:338.02px;font-size:11px;line-height:12.639px;color:#5f5f5f;transform:scaleX(1.0300);">Algeria</span>
<span class="t" style="left:1148.26px;top:338.42px;font-size:11px;line-height:12.639px;color:#5f5f5f;transform:scaleX(0.9800);">6,67%</span>
<div class="abs" style="left:1134px;top:356.85px;width:5.25px;height:15.4px;background:#d64550"></div>
<span class="t" style="left:1067.06px;top:358.40px;font-size:11px;line-height:12.639px;color:#5f5f5f;transform:scaleX(1.0300);">San Marino</span>
<span class="t" style="left:1148.05px;top:358.80px;font-size:11px;line-height:12.639px;color:#5f5f5f;transform:scaleX(0.9800);">6,42%</span>
<div class="abs" style="left:1134px;top:377.23px;width:5.25px;height:15.4px;background:#d64550"></div>
<span class="t" style="left:1070.20px;top:378.77px;font-size:11px;line-height:12.639px;color:#5f5f5f;transform:scaleX(1.0300);">Philippines</span>
<span class="t" style="left:1148.05px;top:379.17px;font-size:11px;line-height:12.639px;color:#5f5f5f;transform:scaleX(0.9800);">6,42%</span>
<div class="abs" style="left:1134px;top:397.60px;width:5.00px;height:15.4px;background:#d64550"></div>
<span class="t" style="left:1105.48px;top:399.15px;font-size:11px;line-height:12.639px;color:#5f5f5f;transform:scaleX(1.0300);">Iran</span>
<span class="t" style="left:1147.80px;top:399.55px;font-size:11px;line-height:12.639px;color:#5f5f5f;transform:scaleX(0.9800);">6,11%</span>
<div class="abs" style="left:1134px;top:417.98px;width:4.30px;height:15.4px;background:#d64550"></div>
<span class="t" style="left:1081.56px;top:419.52px;font-size:11px;line-height:12.639px;color:#5f5f5f;transform:scaleX(1.0300);">Morocco</span>
<span class="t" style="left:1147.10px;top:419.92px;font-size:11px;line-height:12.639px;color:#5f5f5f;transform:scaleX(0.9800);">5,26%</span>
<div class="abs" style="left:1134px;top:438.35px;width:3.89px;height:15.4px;background:#d64550"></div>
<span class="t" style="left:1050.70px;top:439.90px;font-size:11px;line-height:12.639px;color:#5f5f5f;transform:scaleX(1.0300);">Dominican R...</span>
<span class="t" style="left:1146.69px;top:440.30px;font-size:11px;line-height:12.639px;color:#5f5f5f;transform:scaleX(0.9800);">4,76%</span>
<div class="abs" style="left:1134px;top:458.73px;width:3.71px;height:15.4px;background:#d64550"></div>
<span class="t" style="left:1096.02px;top:460.27px;font-size:11px;line-height:12.639px;color:#5f5f5f;transform:scaleX(1.0300);">Spain</span>
<span class="t" style="left:1146.51px;top:460.67px;font-size:11px;line-height:12.639px;color:#5f5f5f;transform:scaleX(0.9800);">4,54%</span>
<div class="abs" style="left:1134px;top:479.10px;width:3.26px;height:15.4px;background:#d64550"></div>
<span class="t" style="left:1095.40px;top:480.65px;font-size:11px;line-height:12.639px;color:#5f5f5f;transform:scaleX(1.0300);">China</span>
<span class="t" style="left:1146.06px;top:481.05px;font-size:11px;line-height:12.639px;color:#5f5f5f;transform:scaleX(0.9800);">3,98%</span>
<div class="abs" style="left:1134px;top:499.48px;width:2.92px;height:15.4px;background:#d64550"></div>
<span class="t" style="left:1071.46px;top:501.02px;font-size:11px;line-height:12.639px;color:#5f5f5f;transform:scaleX(1.0300);">Azerbaijan</span>
<span class="t" style="left:1145.72px;top:501.42px;font-size:11px;line-height:12.639px;color:#5f5f5f;transform:scaleX(0.9800);">3,57%</span>
<div class="abs" style="left:1134px;top:519.85px;width:2.82px;height:15.4px;background:#d64550"></div>
<span class="t" style="left:1082.80px;top:521.39px;font-size:11px;line-height:12.639px;color:#5f5f5f;transform:scaleX(1.0300);">Ecuador</span>
<span class="t" style="left:1145.62px;top:521.79px;font-size:11px;line-height:12.639px;color:#5f5f5f;transform:scaleX(0.9800);">3,45%</span>
<div class="abs" style="left:1134px;top:540.22px;width:2.70px;height:15.4px;background:#d64550"></div>
<span class="t" style="left:1094.13px;top:541.77px;font-size:11px;line-height:12.639px;color:#5f5f5f;transform:scaleX(1.0300);">Japan</span>
<span class="t" style="left:1145.50px;top:542.17px;font-size:11px;line-height:12.639px;color:#5f5f5f;transform:scaleX(0.9800);">3,30%</span>
<div class="abs" style="left:1134px;top:560.60px;width:2.45px;height:15.4px;background:#d64550"></div>
<span class="t" style="left:1083.43px;top:562.14px;font-size:11px;line-height:12.639px;color:#5f5f5f;transform:scaleX(1.0300);">Bulgaria</span>
<span class="t" style="left:1145.25px;top:562.54px;font-size:11px;line-height:12.639px;color:#5f5f5f;transform:scaleX(0.9800);">2,99%</span>
<div class="abs" style="left:1134px;top:580.97px;width:2.40px;height:15.4px;background:#d64550"></div>
<span class="t" style="left:1076.50px;top:582.52px;font-size:11px;line-height:12.639px;color:#5f5f5f;transform:scaleX(1.0300);">Argentina</span>
<span class="t" style="left:1145.20px;top:582.92px;font-size:11px;line-height:12.639px;color:#5f5f5f;transform:scaleX(0.9800);">2,94%</span>
<div class="abs" style="left:1134px;top:601.35px;width:2.38px;height:15.4px;background:#d64550"></div>
<span class="t" style="left:1075.86px;top:602.89px;font-size:11px;line-height:12.639px;color:#5f5f5f;transform:scaleX(1.0300);">Indonesia</span>
<span class="t" style="left:1145.18px;top:603.29px;font-size:11px;line-height:12.639px;color:#5f5f5f;transform:scaleX(0.9800);">2,91%</span>
<div class="abs" style="left:1134px;top:621.72px;width:2.34px;height:15.4px;background:#d64550"></div>
<span class="t" style="left:1050.68px;top:623.27px;font-size:11px;line-height:12.639px;color:#5f5f5f;transform:scaleX(1.0300);">United Kingd...</span>
<span class="t" style="left:1145.14px;top:623.67px;font-size:11px;line-height:12.639px;color:#5f5f5f;transform:scaleX(0.9800);">2,86%</span>
<div class="abs" style="left:1134px;top:642.10px;width:2.06px;height:15.4px;background:#d64550"></div>
<span class="t" style="left:1063.91px;top:643.64px;font-size:11px;line-height:12.639px;color:#5f5f5f;transform:scaleX(1.0300);">Netherlands</span>
<span class="t" style="left:1144.86px;top:644.04px;font-size:11px;line-height:12.639px;color:#5f5f5f;transform:scaleX(0.9800);">2,52%</span>
<span class="t" style="left:1126.05px;top:671.04px;font-size:11px;line-height:12.639px;color:#666;">0%</span>
<span class="t" style="left:1163.89px;top:671.04px;font-size:11px;line-height:12.639px;color:#666;">50%</span>
<span class="t" style="left:1201.53px;top:671.04px;font-size:11px;line-height:12.639px;color:#666;">100%</span>
<span class="t" style="left:1137.30px;top:688.90px;font-size:9.5px;line-height:10.915px;color:#666;font-weight:700;">% Mortalidad s...</span>
<span class="t rot" style="left:1016.5px;top:440.4px;font-size:10px;line-height:12px;color:#484848">Pais</span>
<div class="abs" style="left:1230.7px;top:226px;width:6.5px;height:438px;border-radius:3.5px;background:#ececec"></div>
<div class="abs" style="left:1230.7px;top:226.5px;width:6.5px;height:65px;border-radius:3.5px;background:#b4b4b4"></div>
<div class="abs" style="left:0;top:702px;width:1250px;height:1px;background:#fdfdfd"></div>
</body></html>
